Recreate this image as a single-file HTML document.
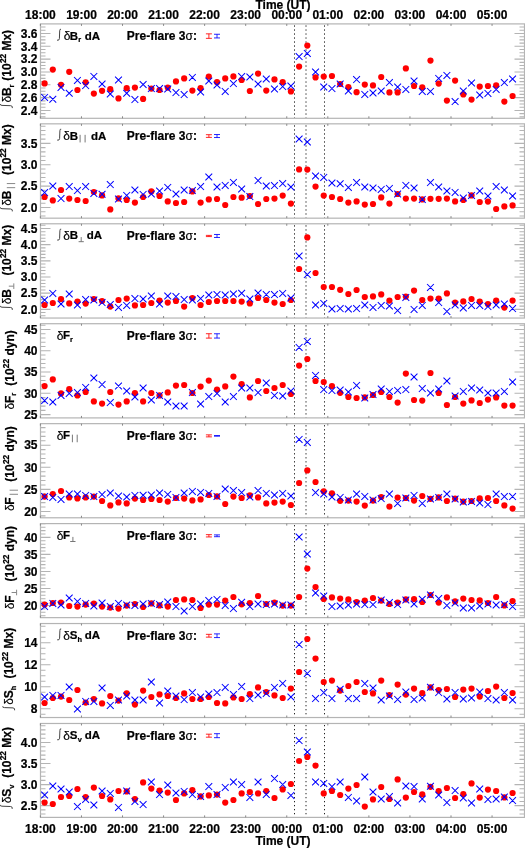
<!DOCTYPE html><html><head><meta charset="utf-8"><style>html,body{margin:0;padding:0;background:#fff;width:525px;height:848px;overflow:hidden}svg{display:block;will-change:transform}text{font-family:"Liberation Sans",sans-serif;font-weight:bold;fill:#000;stroke:#000;stroke-width:0.22px}</style></head><body>
<svg width="525" height="848" viewBox="0 0 525 848">
<rect width="525" height="848" fill="#fff"/>
<text x="283" y="8.7" font-size="12" text-anchor="middle">Time (UT)</text>
<text x="40.4" y="18.9" font-size="12" text-anchor="middle">18:00</text>
<text x="81.5" y="18.9" font-size="12" text-anchor="middle">19:00</text>
<text x="122.5" y="18.9" font-size="12" text-anchor="middle">20:00</text>
<text x="163.6" y="18.9" font-size="12" text-anchor="middle">21:00</text>
<text x="204.6" y="18.9" font-size="12" text-anchor="middle">22:00</text>
<text x="245.7" y="18.9" font-size="12" text-anchor="middle">23:00</text>
<text x="286.8" y="18.9" font-size="12" text-anchor="middle">00:00</text>
<text x="327.8" y="18.9" font-size="12" text-anchor="middle">01:00</text>
<text x="368.9" y="18.9" font-size="12" text-anchor="middle">02:00</text>
<text x="409.9" y="18.9" font-size="12" text-anchor="middle">03:00</text>
<text x="451.0" y="18.9" font-size="12" text-anchor="middle">04:00</text>
<text x="492.1" y="18.9" font-size="12" text-anchor="middle">05:00</text>
<text x="40.4" y="833" font-size="12" text-anchor="middle">18:00</text>
<text x="81.5" y="833" font-size="12" text-anchor="middle">19:00</text>
<text x="122.5" y="833" font-size="12" text-anchor="middle">20:00</text>
<text x="163.6" y="833" font-size="12" text-anchor="middle">21:00</text>
<text x="204.6" y="833" font-size="12" text-anchor="middle">22:00</text>
<text x="245.7" y="833" font-size="12" text-anchor="middle">23:00</text>
<text x="286.8" y="833" font-size="12" text-anchor="middle">00:00</text>
<text x="327.8" y="833" font-size="12" text-anchor="middle">01:00</text>
<text x="368.9" y="833" font-size="12" text-anchor="middle">02:00</text>
<text x="409.9" y="833" font-size="12" text-anchor="middle">03:00</text>
<text x="451.0" y="833" font-size="12" text-anchor="middle">04:00</text>
<text x="492.1" y="833" font-size="12" text-anchor="middle">05:00</text>
<text x="283" y="845" font-size="12" text-anchor="middle">Time (UT)</text>
<g><rect x="40.5" y="23.90" width="484.0" height="94.40" fill="none" stroke="#b4b4b4" stroke-width="1.2"/><text x="37.5" y="114.66" font-size="12" text-anchor="end">2.4</text><text x="37.5" y="101.83" font-size="12" text-anchor="end">2.6</text><text x="37.5" y="89.00" font-size="12" text-anchor="end">2.8</text><text x="37.5" y="76.17" font-size="12" text-anchor="end">3.0</text><text x="37.5" y="63.33" font-size="12" text-anchor="end">3.2</text><text x="37.5" y="50.50" font-size="12" text-anchor="end">3.4</text><text x="37.5" y="37.67" font-size="12" text-anchor="end">3.6</text><path d="M40.5 116.88h5M524.5 116.88h-5M40.5 113.67h5M524.5 113.67h-5M40.5 110.46h10M524.5 110.46h-10M40.5 107.25h5M524.5 107.25h-5M40.5 104.04h5M524.5 104.04h-5M40.5 100.84h5M524.5 100.84h-5M40.5 97.63h10M524.5 97.63h-10M40.5 94.42h5M524.5 94.42h-5M40.5 91.21h5M524.5 91.21h-5M40.5 88.00h5M524.5 88.00h-5M40.5 84.80h10M524.5 84.80h-10M40.5 81.59h5M524.5 81.59h-5M40.5 78.38h5M524.5 78.38h-5M40.5 75.17h5M524.5 75.17h-5M40.5 71.97h10M524.5 71.97h-10M40.5 68.76h5M524.5 68.76h-5M40.5 65.55h5M524.5 65.55h-5M40.5 62.34h5M524.5 62.34h-5M40.5 59.13h10M524.5 59.13h-10M40.5 55.93h5M524.5 55.93h-5M40.5 52.72h5M524.5 52.72h-5M40.5 49.51h5M524.5 49.51h-5M40.5 46.30h10M524.5 46.30h-10M40.5 43.09h5M524.5 43.09h-5M40.5 39.89h5M524.5 39.89h-5M40.5 36.68h5M524.5 36.68h-5M40.5 33.47h10M524.5 33.47h-10M40.5 30.26h5M524.5 30.26h-5M40.5 27.05h5M524.5 27.05h-5" stroke="#b4b4b4" stroke-width="1.1" fill="none"/><path d="M40.40 118.30v-2M40.40 23.90v2M81.46 118.30v-2M81.46 23.90v2M122.52 118.30v-2M122.52 23.90v2M163.58 118.30v-2M163.58 23.90v2M204.64 118.30v-2M204.64 23.90v2M245.70 118.30v-2M245.70 23.90v2M286.76 118.30v-2M286.76 23.90v2M327.82 118.30v-2M327.82 23.90v2M368.88 118.30v-2M368.88 23.90v2M409.94 118.30v-2M409.94 23.90v2M451.00 118.30v-2M451.00 23.90v2M492.06 118.30v-2M492.06 23.90v2" stroke="#888" stroke-width="1" fill="none"/><path d="M61.00 29.30Q59.80 28.70 59.70 30.80L59.40 38.60Q59.20 40.80 57.00 40.20" stroke="#444" stroke-width="1.0" fill="none"/><text x="63.70" y="40.10" font-size="12" style="font-weight:normal;stroke-width:0.15px">δ</text><text x="69.73" y="39.60" font-size="11.50">B</text><text x="78.31" y="42.30" font-size="7.4">r</text><text x="84.73" y="39.60" font-size="11.50">dA</text><text x="126.8" y="40.00" font-size="12">Pre-flare 3<tspan style="font-weight:normal;stroke-width:0.15px">σ</tspan>:</text><path d="M205.90 33.85h6M205.90 38.35h6M208.90 33.85V38.35" stroke="#f00" stroke-width="1" fill="none" opacity="0.85"/><path d="M214.00 34.25h6M214.00 37.95h6M217.00 34.25V37.95" stroke="#00f" stroke-width="1" fill="none" opacity="0.85"/><g transform="translate(11.00 108.60) rotate(-90)"><path d="M4.50 -10.50Q3.30 -11.10 3.20 -9.00L2.90 -0.30Q2.70 1.90 0.50 1.30" stroke="#444" stroke-width="1.0" fill="none"/><text x="6.08" y="0" font-size="12.00" style="font-weight:normal;stroke-width:0.15px">δ</text><text x="12.56" y="0" font-size="12.00">B</text><text x="21.23" y="2.6" font-size="7.44">r</text><text x="27.96" y="0" font-size="12.00">(10</text><text x="45.50" y="-4.9" font-size="8.3">22</text><text x="54.73" y="0" font-size="12.00">&#160;Mx)</text></g><line x1="294.5" y1="25.40" x2="294.5" y2="117.80" stroke="#222" stroke-width="1" stroke-dasharray="1.3 2.7"/><line x1="306.0" y1="25.40" x2="306.0" y2="117.80" stroke="#222" stroke-width="1" stroke-dasharray="1.3 2.7"/><line x1="324.5" y1="25.40" x2="324.5" y2="117.80" stroke="#222" stroke-width="1" stroke-dasharray="1.3 2.7"/><g fill="#f00"><circle cx="44.60" cy="83.40" r="3.1"/><circle cx="52.81" cy="69.60" r="3.1"/><circle cx="61.02" cy="84.80" r="3.1"/><circle cx="69.23" cy="71.80" r="3.1"/><circle cx="77.44" cy="90.00" r="3.1"/><circle cx="85.65" cy="82.40" r="3.1"/><circle cx="93.86" cy="93.60" r="3.1"/><circle cx="102.07" cy="90.80" r="3.1"/><circle cx="110.28" cy="89.20" r="3.1"/><circle cx="118.49" cy="98.40" r="3.1"/><circle cx="126.70" cy="88.20" r="3.1"/><circle cx="134.91" cy="87.60" r="3.1"/><circle cx="143.12" cy="98.90" r="3.1"/><circle cx="151.33" cy="88.60" r="3.1"/><circle cx="159.54" cy="90.00" r="3.1"/><circle cx="167.75" cy="87.60" r="3.1"/><circle cx="175.96" cy="81.40" r="3.1"/><circle cx="184.17" cy="78.40" r="3.1"/><circle cx="192.38" cy="90.60" r="3.1"/><circle cx="200.59" cy="88.20" r="3.1"/><circle cx="208.80" cy="76.60" r="3.1"/><circle cx="217.01" cy="82.20" r="3.1"/><circle cx="225.22" cy="78.40" r="3.1"/><circle cx="233.43" cy="76.40" r="3.1"/><circle cx="241.64" cy="80.00" r="3.1"/><circle cx="249.85" cy="91.00" r="3.1"/><circle cx="258.06" cy="73.60" r="3.1"/><circle cx="266.27" cy="90.60" r="3.1"/><circle cx="274.48" cy="79.40" r="3.1"/><circle cx="282.69" cy="82.00" r="3.1"/><circle cx="290.90" cy="91.40" r="3.1"/><circle cx="299.11" cy="66.60" r="3.1"/><circle cx="307.32" cy="45.60" r="3.1"/><circle cx="315.53" cy="77.40" r="3.1"/><circle cx="323.74" cy="76.60" r="3.1"/><circle cx="331.95" cy="76.00" r="3.1"/><circle cx="340.16" cy="84.00" r="3.1"/><circle cx="348.37" cy="87.00" r="3.1"/><circle cx="356.58" cy="92.20" r="3.1"/><circle cx="364.79" cy="84.60" r="3.1"/><circle cx="373.00" cy="85.40" r="3.1"/><circle cx="381.21" cy="77.00" r="3.1"/><circle cx="389.42" cy="92.40" r="3.1"/><circle cx="397.63" cy="92.40" r="3.1"/><circle cx="405.84" cy="68.40" r="3.1"/><circle cx="414.05" cy="86.00" r="3.1"/><circle cx="422.26" cy="87.40" r="3.1"/><circle cx="430.47" cy="60.60" r="3.1"/><circle cx="438.68" cy="83.60" r="3.1"/><circle cx="446.89" cy="100.60" r="3.1"/><circle cx="455.10" cy="80.60" r="3.1"/><circle cx="463.31" cy="94.40" r="3.1"/><circle cx="471.52" cy="99.60" r="3.1"/><circle cx="479.73" cy="86.60" r="3.1"/><circle cx="487.94" cy="86.00" r="3.1"/><circle cx="496.15" cy="85.40" r="3.1"/><circle cx="504.36" cy="101.60" r="3.1"/><circle cx="512.57" cy="96.00" r="3.1"/></g><path d="M41.20 94.00L48.00 100.80M41.20 100.80L48.00 94.00M49.41 95.80L56.21 102.60M49.41 102.60L56.21 95.80M57.62 84.00L64.42 90.80M57.62 90.80L64.42 84.00M65.83 89.80L72.63 96.60M65.83 96.60L72.63 89.80M74.04 77.00L80.84 83.80M74.04 83.80L80.84 77.00M82.25 82.20L89.05 89.00M82.25 89.00L89.05 82.20M90.46 73.00L97.26 79.80M90.46 79.80L97.26 73.00M98.67 80.60L105.47 87.40M98.67 87.40L105.47 80.60M106.88 90.60L113.68 97.40M106.88 97.40L113.68 90.60M115.09 76.60L121.89 83.40M115.09 83.40L121.89 76.60M123.30 89.80L130.10 96.60M123.30 96.60L130.10 89.80M131.51 96.20L138.31 103.00M131.51 103.00L138.31 96.20M139.72 81.10L146.52 87.90M139.72 87.90L146.52 81.10M147.93 85.20L154.73 92.00M147.93 92.00L154.73 85.20M156.14 85.20L162.94 92.00M156.14 92.00L162.94 85.20M164.35 85.60L171.15 92.40M164.35 92.40L171.15 85.60M172.56 89.20L179.36 96.00M172.56 96.00L179.36 89.20M180.77 91.20L187.57 98.00M180.77 98.00L187.57 91.20M188.98 74.00L195.78 80.80M188.98 80.80L195.78 74.00M197.19 88.60L203.99 95.40M197.19 95.40L203.99 88.60M205.40 77.60L212.20 84.40M205.40 84.40L212.20 77.60M213.61 81.60L220.41 88.40M213.61 88.40L220.41 81.60M221.82 88.00L228.62 94.80M221.82 94.80L228.62 88.00M230.03 80.20L236.83 87.00M230.03 87.00L236.83 80.20M238.24 73.20L245.04 80.00M238.24 80.00L245.04 73.20M246.45 73.60L253.25 80.40M246.45 80.40L253.25 73.60M254.66 80.60L261.46 87.40M254.66 87.40L261.46 80.60M262.87 75.60L269.67 82.40M262.87 82.40L269.67 75.60M271.08 85.60L277.88 92.40M271.08 92.40L277.88 85.60M279.29 83.20L286.09 90.00M279.29 90.00L286.09 83.20M287.50 82.60L294.30 89.40M287.50 89.40L294.30 82.60M295.71 53.20L302.51 60.00M295.71 60.00L302.51 53.20M303.92 50.00L310.72 56.80M303.92 56.80L310.72 50.00M312.13 68.60L318.93 75.40M312.13 75.40L318.93 68.60M320.34 83.60L327.14 90.40M320.34 90.40L327.14 83.60M328.55 85.20L335.35 92.00M328.55 92.00L335.35 85.20M336.76 80.60L343.56 87.40M336.76 87.40L343.56 80.60M344.97 87.60L351.77 94.40M344.97 94.40L351.77 87.60M353.18 76.20L359.98 83.00M353.18 83.00L359.98 76.20M361.39 91.00L368.19 97.80M361.39 97.80L368.19 91.00M369.60 89.60L376.40 96.40M369.60 96.40L376.40 89.60M377.81 87.60L384.61 94.40M377.81 94.40L384.61 87.60M386.02 79.20L392.82 86.00M386.02 86.00L392.82 79.20M394.23 83.60L401.03 90.40M394.23 90.40L401.03 83.60M402.44 86.00L409.24 92.80M402.44 92.80L409.24 86.00M410.65 77.60L417.45 84.40M410.65 84.40L417.45 77.60M418.86 88.00L425.66 94.80M418.86 94.80L425.66 88.00M427.07 88.00L433.87 94.80M427.07 94.80L433.87 88.00M435.28 75.00L442.08 81.80M435.28 81.80L442.08 75.00M443.49 72.00L450.29 78.80M443.49 78.80L450.29 72.00M451.70 98.20L458.50 105.00M451.70 105.00L458.50 98.20M459.91 87.60L466.71 94.40M459.91 94.40L466.71 87.60M468.12 79.60L474.92 86.40M468.12 86.40L474.92 79.60M476.33 91.60L483.13 98.40M476.33 98.40L483.13 91.60M484.54 90.00L491.34 96.80M484.54 96.80L491.34 90.00M492.75 86.00L499.55 92.80M492.75 92.80L499.55 86.00M500.96 79.20L507.76 86.00M500.96 86.00L507.76 79.20M509.17 75.60L515.97 82.40M509.17 82.40L515.97 75.60" stroke="#00f" stroke-width="1.05" fill="none"/></g>
<g><rect x="40.5" y="123.84" width="484.0" height="94.33" fill="none" stroke="#b4b4b4" stroke-width="1.2"/><text x="37.5" y="211.66" font-size="12" text-anchor="end">2.0</text><text x="37.5" y="190.30" font-size="12" text-anchor="end">2.5</text><text x="37.5" y="168.93" font-size="12" text-anchor="end">3.0</text><text x="37.5" y="147.57" font-size="12" text-anchor="end">3.5</text><path d="M40.5 216.01h5M524.5 216.01h-5M40.5 211.73h5M524.5 211.73h-5M40.5 207.46h10M524.5 207.46h-10M40.5 203.19h5M524.5 203.19h-5M40.5 198.91h5M524.5 198.91h-5M40.5 194.64h5M524.5 194.64h-5M40.5 190.37h5M524.5 190.37h-5M40.5 186.10h10M524.5 186.10h-10M40.5 181.82h5M524.5 181.82h-5M40.5 177.55h5M524.5 177.55h-5M40.5 173.28h5M524.5 173.28h-5M40.5 169.01h5M524.5 169.01h-5M40.5 164.73h10M524.5 164.73h-10M40.5 160.46h5M524.5 160.46h-5M40.5 156.19h5M524.5 156.19h-5M40.5 151.92h5M524.5 151.92h-5M40.5 147.64h5M524.5 147.64h-5M40.5 143.37h10M524.5 143.37h-10M40.5 139.10h5M524.5 139.10h-5M40.5 134.82h5M524.5 134.82h-5M40.5 130.55h5M524.5 130.55h-5M40.5 126.28h5M524.5 126.28h-5" stroke="#b4b4b4" stroke-width="1.1" fill="none"/><path d="M40.40 218.17v-2M40.40 123.84v2M81.46 218.17v-2M81.46 123.84v2M122.52 218.17v-2M122.52 123.84v2M163.58 218.17v-2M163.58 123.84v2M204.64 218.17v-2M204.64 123.84v2M245.70 218.17v-2M245.70 123.84v2M286.76 218.17v-2M286.76 123.84v2M327.82 218.17v-2M327.82 123.84v2M368.88 218.17v-2M368.88 123.84v2M409.94 218.17v-2M409.94 123.84v2M451.00 218.17v-2M451.00 123.84v2M492.06 218.17v-2M492.06 123.84v2" stroke="#888" stroke-width="1" fill="none"/><path d="M61.20 129.24Q60.00 128.64 59.90 130.74L59.60 138.54Q59.40 140.74 57.20 140.14" stroke="#444" stroke-width="1.0" fill="none"/><text x="63.30" y="140.04" font-size="12" style="font-weight:normal;stroke-width:0.15px">δ</text><text x="69.63" y="139.54" font-size="11.50">B</text><path d="M80.10 134.84V142.44M85.10 134.84V142.44" stroke="#777" stroke-width="1" fill="none"/><text x="91.03" y="139.54" font-size="11.50">dA</text><text x="126.8" y="139.94" font-size="12">Pre-flare 3<tspan style="font-weight:normal;stroke-width:0.15px">σ</tspan>:</text><path d="M205.90 134.69h6M205.90 137.39h6M208.90 134.69V137.39" stroke="#f00" stroke-width="1" fill="none" opacity="0.85"/><path d="M214.00 134.54h6M214.00 137.54h6M217.00 134.54V137.54" stroke="#00f" stroke-width="1" fill="none" opacity="0.85"/><g transform="translate(11.00 211.90) rotate(-90)"><path d="M4.50 -10.50Q3.30 -11.10 3.20 -9.00L2.90 -0.30Q2.70 1.90 0.50 1.30" stroke="#444" stroke-width="1.0" fill="none"/><text x="6.08" y="0" font-size="12.00" style="font-weight:normal;stroke-width:0.15px">δ</text><text x="12.56" y="0" font-size="12.00">B</text><path d="M24.23 -4.2v8.4M28.33 -4.2v8.4" stroke="#888" stroke-width="1" fill="none"/><text x="36.86" y="0" font-size="12.00">(10</text><text x="54.41" y="-4.9" font-size="8.3">22</text><text x="63.64" y="0" font-size="12.00">&#160;Mx)</text></g><line x1="294.5" y1="125.34" x2="294.5" y2="217.67" stroke="#222" stroke-width="1" stroke-dasharray="1.3 2.7"/><line x1="306.0" y1="125.34" x2="306.0" y2="217.67" stroke="#222" stroke-width="1" stroke-dasharray="1.3 2.7"/><line x1="324.5" y1="125.34" x2="324.5" y2="217.67" stroke="#222" stroke-width="1" stroke-dasharray="1.3 2.7"/><g fill="#f00"><circle cx="44.60" cy="197.00" r="3.1"/><circle cx="52.81" cy="200.40" r="3.1"/><circle cx="61.02" cy="190.00" r="3.1"/><circle cx="69.23" cy="198.60" r="3.1"/><circle cx="77.44" cy="200.00" r="3.1"/><circle cx="85.65" cy="201.00" r="3.1"/><circle cx="93.86" cy="192.00" r="3.1"/><circle cx="102.07" cy="195.40" r="3.1"/><circle cx="110.28" cy="209.40" r="3.1"/><circle cx="118.49" cy="198.40" r="3.1"/><circle cx="126.70" cy="200.00" r="3.1"/><circle cx="134.91" cy="202.60" r="3.1"/><circle cx="143.12" cy="197.00" r="3.1"/><circle cx="151.33" cy="191.40" r="3.1"/><circle cx="159.54" cy="196.00" r="3.1"/><circle cx="167.75" cy="201.40" r="3.1"/><circle cx="175.96" cy="203.00" r="3.1"/><circle cx="184.17" cy="202.00" r="3.1"/><circle cx="192.38" cy="191.40" r="3.1"/><circle cx="200.59" cy="202.60" r="3.1"/><circle cx="208.80" cy="199.40" r="3.1"/><circle cx="217.01" cy="199.00" r="3.1"/><circle cx="225.22" cy="205.00" r="3.1"/><circle cx="233.43" cy="197.00" r="3.1"/><circle cx="241.64" cy="197.70" r="3.1"/><circle cx="249.85" cy="196.00" r="3.1"/><circle cx="258.06" cy="204.00" r="3.1"/><circle cx="266.27" cy="199.00" r="3.1"/><circle cx="274.48" cy="198.60" r="3.1"/><circle cx="282.69" cy="195.60" r="3.1"/><circle cx="290.90" cy="203.60" r="3.1"/><circle cx="299.11" cy="169.40" r="3.1"/><circle cx="307.32" cy="169.60" r="3.1"/><circle cx="315.53" cy="186.60" r="3.1"/><circle cx="323.74" cy="195.60" r="3.1"/><circle cx="331.95" cy="197.00" r="3.1"/><circle cx="340.16" cy="199.00" r="3.1"/><circle cx="348.37" cy="202.60" r="3.1"/><circle cx="356.58" cy="201.40" r="3.1"/><circle cx="364.79" cy="204.60" r="3.1"/><circle cx="373.00" cy="204.00" r="3.1"/><circle cx="381.21" cy="197.40" r="3.1"/><circle cx="389.42" cy="203.60" r="3.1"/><circle cx="397.63" cy="194.00" r="3.1"/><circle cx="405.84" cy="198.60" r="3.1"/><circle cx="414.05" cy="198.60" r="3.1"/><circle cx="422.26" cy="199.40" r="3.1"/><circle cx="430.47" cy="198.80" r="3.1"/><circle cx="438.68" cy="198.80" r="3.1"/><circle cx="446.89" cy="198.60" r="3.1"/><circle cx="455.10" cy="201.40" r="3.1"/><circle cx="463.31" cy="200.00" r="3.1"/><circle cx="471.52" cy="195.40" r="3.1"/><circle cx="479.73" cy="202.00" r="3.1"/><circle cx="487.94" cy="201.60" r="3.1"/><circle cx="496.15" cy="209.00" r="3.1"/><circle cx="504.36" cy="206.40" r="3.1"/><circle cx="512.57" cy="205.40" r="3.1"/></g><path d="M41.20 189.20L48.00 196.00M41.20 196.00L48.00 189.20M49.41 182.60L56.21 189.40M49.41 189.40L56.21 182.60M57.62 195.20L64.42 202.00M57.62 202.00L64.42 195.20M65.83 183.20L72.63 190.00M65.83 190.00L72.63 183.20M74.04 187.20L80.84 194.00M74.04 194.00L80.84 187.20M82.25 183.20L89.05 190.00M82.25 190.00L89.05 183.20M90.46 190.00L97.26 196.80M90.46 196.80L97.26 190.00M98.67 190.80L105.47 197.60M98.67 197.60L105.47 190.80M106.88 181.20L113.68 188.00M106.88 188.00L113.68 181.20M115.09 195.60L121.89 202.40M115.09 202.40L121.89 195.60M123.30 192.00L130.10 198.80M123.30 198.80L130.10 192.00M131.51 186.60L138.31 193.40M131.51 193.40L138.31 186.60M139.72 191.00L146.52 197.80M139.72 197.80L146.52 191.00M147.93 190.60L154.73 197.40M147.93 197.40L154.73 190.60M156.14 187.60L162.94 194.40M156.14 194.40L162.94 187.60M164.35 184.00L171.15 190.80M164.35 190.80L171.15 184.00M172.56 190.60L179.36 197.40M172.56 197.40L179.36 190.60M180.77 186.60L187.57 193.40M180.77 193.40L187.57 186.60M188.98 187.20L195.78 194.00M188.98 194.00L195.78 187.20M197.19 183.20L203.99 190.00M197.19 190.00L203.99 183.20M205.40 173.60L212.20 180.40M205.40 180.40L212.20 173.60M213.61 183.60L220.41 190.40M213.61 190.40L220.41 183.60M221.82 182.00L228.62 188.80M221.82 188.80L228.62 182.00M230.03 179.00L236.83 185.80M230.03 185.80L236.83 179.00M238.24 185.60L245.04 192.40M238.24 192.40L245.04 185.60M246.45 193.20L253.25 200.00M246.45 200.00L253.25 193.20M254.66 177.20L261.46 184.00M254.66 184.00L261.46 177.20M262.87 182.60L269.67 189.40M262.87 189.40L269.67 182.60M271.08 182.20L277.88 189.00M271.08 189.00L277.88 182.20M279.29 180.20L286.09 187.00M279.29 187.00L286.09 180.20M287.50 183.60L294.30 190.40M287.50 190.40L294.30 183.60M295.71 135.60L302.51 142.40M295.71 142.40L302.51 135.60M303.92 138.60L310.72 145.40M303.92 145.40L310.72 138.60M312.13 172.60L318.93 179.40M312.13 179.40L318.93 172.60M320.34 174.00L327.14 180.80M320.34 180.80L327.14 174.00M328.55 179.60L335.35 186.40M328.55 186.40L335.35 179.60M336.76 180.40L343.56 187.20M336.76 187.20L343.56 180.40M344.97 184.00L351.77 190.80M344.97 190.80L351.77 184.00M353.18 179.20L359.98 186.00M353.18 186.00L359.98 179.20M361.39 183.60L368.19 190.40M361.39 190.40L368.19 183.60M369.60 184.60L376.40 191.40M369.60 191.40L376.40 184.60M377.81 186.00L384.61 192.80M377.81 192.80L384.61 186.00M386.02 185.00L392.82 191.80M386.02 191.80L392.82 185.00M394.23 190.60L401.03 197.40M394.23 197.40L401.03 190.60M402.44 182.00L409.24 188.80M402.44 188.80L409.24 182.00M410.65 184.60L417.45 191.40M410.65 191.40L417.45 184.60M418.86 196.00L425.66 202.80M418.86 202.80L425.66 196.00M427.07 179.20L433.87 186.00M427.07 186.00L433.87 179.20M435.28 183.60L442.08 190.40M435.28 190.40L442.08 183.60M443.49 187.60L450.29 194.40M443.49 194.40L450.29 187.60M451.70 189.00L458.50 195.80M451.70 195.80L458.50 189.00M459.91 194.60L466.71 201.40M459.91 201.40L466.71 194.60M468.12 192.00L474.92 198.80M468.12 198.80L474.92 192.00M476.33 187.60L483.13 194.40M476.33 194.40L483.13 187.60M484.54 192.60L491.34 199.40M484.54 199.40L491.34 192.60M492.75 183.20L499.55 190.00M492.75 190.00L499.55 183.20M500.96 186.60L507.76 193.40M500.96 193.40L507.76 186.60M509.17 192.60L515.97 199.40M509.17 199.40L515.97 192.60" stroke="#00f" stroke-width="1.05" fill="none"/></g>
<g><rect x="40.5" y="223.78" width="484.0" height="94.26" fill="none" stroke="#b4b4b4" stroke-width="1.2"/><text x="37.5" y="313.53" font-size="12" text-anchor="end">2.0</text><text x="37.5" y="297.36" font-size="12" text-anchor="end">2.5</text><text x="37.5" y="281.19" font-size="12" text-anchor="end">3.0</text><text x="37.5" y="265.03" font-size="12" text-anchor="end">3.5</text><text x="37.5" y="248.86" font-size="12" text-anchor="end">4.0</text><text x="37.5" y="232.69" font-size="12" text-anchor="end">4.5</text><path d="M40.5 315.80h5M524.5 315.80h-5M40.5 312.56h5M524.5 312.56h-5M40.5 309.33h10M524.5 309.33h-10M40.5 306.10h5M524.5 306.10h-5M40.5 302.86h5M524.5 302.86h-5M40.5 299.63h5M524.5 299.63h-5M40.5 296.40h5M524.5 296.40h-5M40.5 293.16h10M524.5 293.16h-10M40.5 289.93h5M524.5 289.93h-5M40.5 286.69h5M524.5 286.69h-5M40.5 283.46h5M524.5 283.46h-5M40.5 280.23h5M524.5 280.23h-5M40.5 276.99h10M524.5 276.99h-10M40.5 273.76h5M524.5 273.76h-5M40.5 270.53h5M524.5 270.53h-5M40.5 267.29h5M524.5 267.29h-5M40.5 264.06h5M524.5 264.06h-5M40.5 260.83h10M524.5 260.83h-10M40.5 257.59h5M524.5 257.59h-5M40.5 254.36h5M524.5 254.36h-5M40.5 251.13h5M524.5 251.13h-5M40.5 247.89h5M524.5 247.89h-5M40.5 244.66h10M524.5 244.66h-10M40.5 241.42h5M524.5 241.42h-5M40.5 238.19h5M524.5 238.19h-5M40.5 234.96h5M524.5 234.96h-5M40.5 231.72h5M524.5 231.72h-5M40.5 228.49h10M524.5 228.49h-10M40.5 225.26h5M524.5 225.26h-5" stroke="#b4b4b4" stroke-width="1.1" fill="none"/><path d="M40.40 318.04v-2M40.40 223.78v2M81.46 318.04v-2M81.46 223.78v2M122.52 318.04v-2M122.52 223.78v2M163.58 318.04v-2M163.58 223.78v2M204.64 318.04v-2M204.64 223.78v2M245.70 318.04v-2M245.70 223.78v2M286.76 318.04v-2M286.76 223.78v2M327.82 318.04v-2M327.82 223.78v2M368.88 318.04v-2M368.88 223.78v2M409.94 318.04v-2M409.94 223.78v2M451.00 318.04v-2M451.00 223.78v2M492.06 318.04v-2M492.06 223.78v2" stroke="#888" stroke-width="1" fill="none"/><path d="M61.20 229.18Q60.00 228.58 59.90 230.68L59.60 238.48Q59.40 240.68 57.20 240.08" stroke="#444" stroke-width="1.0" fill="none"/><text x="63.30" y="239.98" font-size="12" style="font-weight:normal;stroke-width:0.15px">δ</text><text x="69.63" y="239.48" font-size="11.50">B</text><path d="M81.20 237.08V241.68M78.60 241.68H83.80" stroke="#777" stroke-width="1" fill="none"/><text x="86.63" y="239.48" font-size="11.50">dA</text><text x="126.8" y="239.88" font-size="12">Pre-flare 3<tspan style="font-weight:normal;stroke-width:0.15px">σ</tspan>:</text><path d="M205.90 235.38h6M205.90 236.58h6M208.90 235.38V236.58" stroke="#f00" stroke-width="1" fill="none" opacity="0.85"/><path d="M214.00 234.48h6M214.00 237.48h6M217.00 234.48V237.48" stroke="#00f" stroke-width="1" fill="none" opacity="0.85"/><g transform="translate(11.00 310.40) rotate(-90)"><path d="M4.50 -10.50Q3.30 -11.10 3.20 -9.00L2.90 -0.30Q2.70 1.90 0.50 1.30" stroke="#444" stroke-width="1.0" fill="none"/><text x="6.08" y="0" font-size="12.00" style="font-weight:normal;stroke-width:0.15px">δ</text><text x="12.56" y="0" font-size="12.00">B</text><path d="M24.23 -2.20v5.0M21.43 2.80h5.6" stroke="#888" stroke-width="1" fill="none"/><text x="34.81" y="0" font-size="12.00">(10</text><text x="52.36" y="-4.9" font-size="8.3">22</text><text x="61.59" y="0" font-size="12.00">&#160;Mx)</text></g><line x1="294.5" y1="225.28" x2="294.5" y2="317.54" stroke="#222" stroke-width="1" stroke-dasharray="1.3 2.7"/><line x1="306.0" y1="225.28" x2="306.0" y2="317.54" stroke="#222" stroke-width="1" stroke-dasharray="1.3 2.7"/><line x1="324.5" y1="225.28" x2="324.5" y2="317.54" stroke="#222" stroke-width="1" stroke-dasharray="1.3 2.7"/><g fill="#f00"><circle cx="44.60" cy="305.00" r="3.1"/><circle cx="52.81" cy="303.00" r="3.1"/><circle cx="61.02" cy="299.00" r="3.1"/><circle cx="69.23" cy="303.40" r="3.1"/><circle cx="77.44" cy="301.60" r="3.1"/><circle cx="85.65" cy="303.60" r="3.1"/><circle cx="93.86" cy="299.00" r="3.1"/><circle cx="102.07" cy="301.00" r="3.1"/><circle cx="110.28" cy="306.60" r="3.1"/><circle cx="118.49" cy="300.00" r="3.1"/><circle cx="126.70" cy="298.60" r="3.1"/><circle cx="134.91" cy="305.40" r="3.1"/><circle cx="143.12" cy="305.00" r="3.1"/><circle cx="151.33" cy="303.00" r="3.1"/><circle cx="159.54" cy="300.60" r="3.1"/><circle cx="167.75" cy="302.60" r="3.1"/><circle cx="175.96" cy="301.00" r="3.1"/><circle cx="184.17" cy="306.60" r="3.1"/><circle cx="192.38" cy="298.00" r="3.1"/><circle cx="200.59" cy="305.00" r="3.1"/><circle cx="208.80" cy="302.00" r="3.1"/><circle cx="217.01" cy="301.00" r="3.1"/><circle cx="225.22" cy="301.00" r="3.1"/><circle cx="233.43" cy="301.00" r="3.1"/><circle cx="241.64" cy="301.60" r="3.1"/><circle cx="249.85" cy="303.40" r="3.1"/><circle cx="258.06" cy="298.00" r="3.1"/><circle cx="266.27" cy="300.00" r="3.1"/><circle cx="274.48" cy="302.60" r="3.1"/><circle cx="282.69" cy="304.00" r="3.1"/><circle cx="290.90" cy="300.00" r="3.1"/><circle cx="299.11" cy="269.00" r="3.1"/><circle cx="307.32" cy="237.40" r="3.1"/><circle cx="315.53" cy="273.00" r="3.1"/><circle cx="323.74" cy="287.00" r="3.1"/><circle cx="331.95" cy="287.00" r="3.1"/><circle cx="340.16" cy="289.80" r="3.1"/><circle cx="348.37" cy="294.00" r="3.1"/><circle cx="356.58" cy="290.00" r="3.1"/><circle cx="364.79" cy="297.00" r="3.1"/><circle cx="373.00" cy="296.40" r="3.1"/><circle cx="381.21" cy="294.40" r="3.1"/><circle cx="389.42" cy="300.60" r="3.1"/><circle cx="397.63" cy="297.00" r="3.1"/><circle cx="405.84" cy="296.60" r="3.1"/><circle cx="414.05" cy="290.60" r="3.1"/><circle cx="422.26" cy="300.00" r="3.1"/><circle cx="430.47" cy="298.60" r="3.1"/><circle cx="438.68" cy="298.60" r="3.1"/><circle cx="446.89" cy="293.40" r="3.1"/><circle cx="455.10" cy="302.60" r="3.1"/><circle cx="463.31" cy="301.40" r="3.1"/><circle cx="471.52" cy="299.00" r="3.1"/><circle cx="479.73" cy="301.60" r="3.1"/><circle cx="487.94" cy="304.00" r="3.1"/><circle cx="496.15" cy="300.60" r="3.1"/><circle cx="504.36" cy="307.60" r="3.1"/><circle cx="512.57" cy="300.60" r="3.1"/></g><path d="M41.20 296.60L48.00 303.40M41.20 303.40L48.00 296.60M49.41 290.00L56.21 296.80M49.41 296.80L56.21 290.00M57.62 300.60L64.42 307.40M57.62 307.40L64.42 300.60M65.83 290.60L72.63 297.40M65.83 297.40L72.63 290.60M74.04 301.60L80.84 308.40M74.04 308.40L80.84 301.60M82.25 296.20L89.05 303.00M82.25 303.00L89.05 296.20M90.46 296.60L97.26 303.40M90.46 303.40L97.26 296.60M98.67 299.20L105.47 306.00M98.67 306.00L105.47 299.20M106.88 301.20L113.68 308.00M106.88 308.00L113.68 301.20M115.09 304.00L121.89 310.80M115.09 310.80L121.89 304.00M123.30 302.00L130.10 308.80M123.30 308.80L130.10 302.00M131.51 295.20L138.31 302.00M131.51 302.00L138.31 295.20M139.72 295.60L146.52 302.40M139.72 302.40L146.52 295.60M147.93 292.60L154.73 299.40M147.93 299.40L154.73 292.60M156.14 300.60L162.94 307.40M156.14 307.40L162.94 300.60M164.35 292.60L171.15 299.40M164.35 299.40L171.15 292.60M172.56 293.20L179.36 300.00M172.56 300.00L179.36 293.20M180.77 296.20L187.57 303.00M180.77 303.00L187.57 296.20M188.98 296.60L195.78 303.40M188.98 303.40L195.78 296.60M197.19 295.20L203.99 302.00M197.19 302.00L203.99 295.20M205.40 291.60L212.20 298.40M205.40 298.40L212.20 291.60M213.61 291.20L220.41 298.00M213.61 298.00L220.41 291.20M221.82 291.60L228.62 298.40M221.82 298.40L228.62 291.60M230.03 290.60L236.83 297.40M230.03 297.40L236.83 290.60M238.24 289.80L245.04 296.60M238.24 296.60L245.04 289.80M246.45 295.60L253.25 302.40M246.45 302.40L253.25 295.60M254.66 289.60L261.46 296.40M254.66 296.40L261.46 289.60M262.87 291.20L269.67 298.00M262.87 298.00L269.67 291.20M271.08 291.20L277.88 298.00M271.08 298.00L277.88 291.20M279.29 290.00L286.09 296.80M279.29 296.80L286.09 290.00M287.50 294.60L294.30 301.40M287.50 301.40L294.30 294.60M295.71 252.60L302.51 259.40M295.71 259.40L302.51 252.60M303.92 271.20L310.72 278.00M303.92 278.00L310.72 271.20M312.13 301.60L318.93 308.40M312.13 308.40L318.93 301.60M320.34 300.00L327.14 306.80M320.34 306.80L327.14 300.00M328.55 305.60L335.35 312.40M328.55 312.40L335.35 305.60M336.76 305.20L343.56 312.00M336.76 312.00L343.56 305.20M344.97 305.60L351.77 312.40M344.97 312.40L351.77 305.60M353.18 305.20L359.98 312.00M353.18 312.00L359.98 305.20M361.39 301.60L368.19 308.40M361.39 308.40L368.19 301.60M369.60 304.00L376.40 310.80M369.60 310.80L376.40 304.00M377.81 302.20L384.61 309.00M377.81 309.00L384.61 302.20M386.02 302.60L392.82 309.40M386.02 309.40L392.82 302.60M394.23 307.20L401.03 314.00M394.23 314.00L401.03 307.20M402.44 294.00L409.24 300.80M402.44 300.80L409.24 294.00M410.65 306.00L417.45 312.80M410.65 312.80L417.45 306.00M418.86 302.00L425.66 308.80M418.86 308.80L425.66 302.00M427.07 284.00L433.87 290.80M427.07 290.80L433.87 284.00M435.28 299.20L442.08 306.00M435.28 306.00L442.08 299.20M443.49 308.00L450.29 314.80M443.49 314.80L450.29 308.00M451.70 301.60L458.50 308.40M451.70 308.40L458.50 301.60M459.91 304.60L466.71 311.40M459.91 311.40L466.71 304.60M468.12 302.00L474.92 308.80M468.12 308.80L474.92 302.00M476.33 302.00L483.13 308.80M476.33 308.80L483.13 302.00M484.54 303.20L491.34 310.00M484.54 310.00L491.34 303.20M492.75 301.60L499.55 308.40M492.75 308.40L499.55 301.60M500.96 300.60L507.76 307.40M500.96 307.40L507.76 300.60M509.17 305.20L515.97 312.00M509.17 312.00L515.97 305.20" stroke="#00f" stroke-width="1.05" fill="none"/></g>
<g><rect x="40.5" y="323.72" width="484.0" height="94.19" fill="none" stroke="#b4b4b4" stroke-width="1.2"/><text x="37.5" y="418.80" font-size="12" text-anchor="end">25</text><text x="37.5" y="397.52" font-size="12" text-anchor="end">30</text><text x="37.5" y="376.25" font-size="12" text-anchor="end">35</text><text x="37.5" y="354.97" font-size="12" text-anchor="end">40</text><text x="37.5" y="333.70" font-size="12" text-anchor="end">45</text><path d="M40.5 414.60h10M524.5 414.60h-10M40.5 410.35h5M524.5 410.35h-5M40.5 406.09h5M524.5 406.09h-5M40.5 401.84h5M524.5 401.84h-5M40.5 397.58h5M524.5 397.58h-5M40.5 393.32h10M524.5 393.32h-10M40.5 389.07h5M524.5 389.07h-5M40.5 384.81h5M524.5 384.81h-5M40.5 380.56h5M524.5 380.56h-5M40.5 376.31h5M524.5 376.31h-5M40.5 372.05h10M524.5 372.05h-10M40.5 367.80h5M524.5 367.80h-5M40.5 363.54h5M524.5 363.54h-5M40.5 359.29h5M524.5 359.29h-5M40.5 355.03h5M524.5 355.03h-5M40.5 350.77h10M524.5 350.77h-10M40.5 346.52h5M524.5 346.52h-5M40.5 342.26h5M524.5 342.26h-5M40.5 338.01h5M524.5 338.01h-5M40.5 333.75h5M524.5 333.75h-5M40.5 329.50h10M524.5 329.50h-10M40.5 325.25h5M524.5 325.25h-5" stroke="#b4b4b4" stroke-width="1.1" fill="none"/><path d="M40.40 417.91v-2M40.40 323.72v2M81.46 417.91v-2M81.46 323.72v2M122.52 417.91v-2M122.52 323.72v2M163.58 417.91v-2M163.58 323.72v2M204.64 417.91v-2M204.64 323.72v2M245.70 417.91v-2M245.70 323.72v2M286.76 417.91v-2M286.76 323.72v2M327.82 417.91v-2M327.82 323.72v2M368.88 417.91v-2M368.88 323.72v2M409.94 417.91v-2M409.94 323.72v2M451.00 417.91v-2M451.00 323.72v2M492.06 417.91v-2M492.06 323.72v2" stroke="#888" stroke-width="1" fill="none"/><text x="56.80" y="339.92" font-size="12" style="font-weight:normal;stroke-width:0.15px">δ</text><text x="63.03" y="339.42" font-size="11.50">F</text><text x="69.91" y="342.12" font-size="7.4">r</text><text x="126.8" y="339.82" font-size="12">Pre-flare 3<tspan style="font-weight:normal;stroke-width:0.15px">σ</tspan>:</text><path d="M205.90 333.72h6M205.90 338.12h6M208.90 333.72V338.12" stroke="#f00" stroke-width="1" fill="none" opacity="0.85"/><path d="M214.00 333.77h6M214.00 338.07h6M217.00 333.77V338.07" stroke="#00f" stroke-width="1" fill="none" opacity="0.85"/><g transform="translate(13.80 409.50) rotate(-90)"><text x="0.00" y="0" font-size="12.00" style="font-weight:normal;stroke-width:0.15px">δ</text><text x="6.48" y="0" font-size="12.00">F</text><text x="13.81" y="2.6" font-size="7.44">r</text><text x="23.84" y="0" font-size="12.00">(10</text><text x="41.38" y="-4.9" font-size="8.3">22</text><text x="50.61" y="0" font-size="12.00">&#160;dyn)</text></g><line x1="294.5" y1="325.22" x2="294.5" y2="417.41" stroke="#222" stroke-width="1" stroke-dasharray="1.3 2.7"/><line x1="306.0" y1="325.22" x2="306.0" y2="417.41" stroke="#222" stroke-width="1" stroke-dasharray="1.3 2.7"/><line x1="324.5" y1="325.22" x2="324.5" y2="417.41" stroke="#222" stroke-width="1" stroke-dasharray="1.3 2.7"/><g fill="#f00"><circle cx="44.60" cy="386.00" r="3.1"/><circle cx="52.81" cy="379.40" r="3.1"/><circle cx="61.02" cy="393.40" r="3.1"/><circle cx="69.23" cy="389.00" r="3.1"/><circle cx="77.44" cy="395.40" r="3.1"/><circle cx="85.65" cy="392.00" r="3.1"/><circle cx="93.86" cy="401.40" r="3.1"/><circle cx="102.07" cy="403.60" r="3.1"/><circle cx="110.28" cy="392.00" r="3.1"/><circle cx="118.49" cy="404.60" r="3.1"/><circle cx="126.70" cy="401.40" r="3.1"/><circle cx="134.91" cy="393.00" r="3.1"/><circle cx="143.12" cy="401.40" r="3.1"/><circle cx="151.33" cy="393.00" r="3.1"/><circle cx="159.54" cy="395.40" r="3.1"/><circle cx="167.75" cy="392.40" r="3.1"/><circle cx="175.96" cy="385.60" r="3.1"/><circle cx="184.17" cy="385.00" r="3.1"/><circle cx="192.38" cy="393.00" r="3.1"/><circle cx="200.59" cy="386.60" r="3.1"/><circle cx="208.80" cy="380.60" r="3.1"/><circle cx="217.01" cy="389.60" r="3.1"/><circle cx="225.22" cy="386.40" r="3.1"/><circle cx="233.43" cy="376.60" r="3.1"/><circle cx="241.64" cy="384.00" r="3.1"/><circle cx="249.85" cy="397.40" r="3.1"/><circle cx="258.06" cy="381.00" r="3.1"/><circle cx="266.27" cy="391.00" r="3.1"/><circle cx="274.48" cy="388.00" r="3.1"/><circle cx="282.69" cy="385.00" r="3.1"/><circle cx="290.90" cy="394.00" r="3.1"/><circle cx="299.11" cy="365.60" r="3.1"/><circle cx="307.32" cy="359.00" r="3.1"/><circle cx="315.53" cy="381.00" r="3.1"/><circle cx="323.74" cy="382.00" r="3.1"/><circle cx="331.95" cy="386.00" r="3.1"/><circle cx="340.16" cy="392.80" r="3.1"/><circle cx="348.37" cy="397.00" r="3.1"/><circle cx="356.58" cy="398.00" r="3.1"/><circle cx="364.79" cy="397.40" r="3.1"/><circle cx="373.00" cy="395.00" r="3.1"/><circle cx="381.21" cy="392.00" r="3.1"/><circle cx="389.42" cy="397.00" r="3.1"/><circle cx="397.63" cy="402.60" r="3.1"/><circle cx="405.84" cy="373.60" r="3.1"/><circle cx="414.05" cy="400.00" r="3.1"/><circle cx="422.26" cy="400.60" r="3.1"/><circle cx="430.47" cy="373.00" r="3.1"/><circle cx="438.68" cy="393.00" r="3.1"/><circle cx="446.89" cy="405.00" r="3.1"/><circle cx="455.10" cy="397.00" r="3.1"/><circle cx="463.31" cy="403.60" r="3.1"/><circle cx="471.52" cy="400.40" r="3.1"/><circle cx="479.73" cy="403.00" r="3.1"/><circle cx="487.94" cy="399.60" r="3.1"/><circle cx="496.15" cy="397.40" r="3.1"/><circle cx="504.36" cy="405.60" r="3.1"/><circle cx="512.57" cy="405.60" r="3.1"/></g><path d="M41.20 397.20L48.00 404.00M41.20 404.00L48.00 397.20M49.41 398.60L56.21 405.40M49.41 405.40L56.21 398.60M57.62 392.00L64.42 398.80M57.62 398.80L64.42 392.00M65.83 390.00L72.63 396.80M65.83 396.80L72.63 390.00M74.04 389.20L80.84 396.00M74.04 396.00L80.84 389.20M82.25 384.00L89.05 390.80M82.25 390.80L89.05 384.00M90.46 374.60L97.26 381.40M90.46 381.40L97.26 374.60M98.67 381.20L105.47 388.00M98.67 388.00L105.47 381.20M106.88 399.20L113.68 406.00M106.88 406.00L113.68 399.20M115.09 382.60L121.89 389.40M115.09 389.40L121.89 382.60M123.30 387.60L130.10 394.40M123.30 394.40L130.10 387.60M131.51 393.60L138.31 400.40M131.51 400.40L138.31 393.60M139.72 384.60L146.52 391.40M139.72 391.40L146.52 384.60M147.93 396.60L154.73 403.40M147.93 403.40L154.73 396.60M156.14 392.00L162.94 398.80M156.14 398.80L162.94 392.00M164.35 398.60L171.15 405.40M164.35 405.40L171.15 398.60M172.56 402.60L179.36 409.40M172.56 409.40L179.36 402.60M180.77 402.60L187.57 409.40M180.77 409.40L187.57 402.60M188.98 389.20L195.78 396.00M188.98 396.00L195.78 389.20M197.19 400.60L203.99 407.40M197.19 407.40L203.99 400.60M205.40 393.20L212.20 400.00M205.40 400.00L212.20 393.20M213.61 390.00L220.41 396.80M213.61 396.80L220.41 390.00M221.82 398.60L228.62 405.40M221.82 405.40L228.62 398.60M230.03 393.20L236.83 400.00M230.03 400.00L236.83 393.20M238.24 384.60L245.04 391.40M238.24 391.40L245.04 384.60M246.45 384.60L253.25 391.40M246.45 391.40L253.25 384.60M254.66 389.20L261.46 396.00M254.66 396.00L261.46 389.20M262.87 379.60L269.67 386.40M262.87 386.40L269.67 379.60M271.08 392.00L277.88 398.80M271.08 398.80L277.88 392.00M279.29 392.60L286.09 399.40M279.29 399.40L286.09 392.60M287.50 387.60L294.30 394.40M287.50 394.40L294.30 387.60M295.71 344.00L302.51 350.80M295.71 350.80L302.51 344.00M303.92 338.00L310.72 344.80M303.92 344.80L310.72 338.00M312.13 372.00L318.93 378.80M312.13 378.80L318.93 372.00M320.34 386.20L327.14 393.00M320.34 393.00L327.14 386.20M328.55 387.20L335.35 394.00M328.55 394.00L335.35 387.20M336.76 386.60L343.56 393.40M336.76 393.40L343.56 386.60M344.97 388.60L351.77 395.40M344.97 395.40L351.77 388.60M353.18 382.00L359.98 388.80M353.18 388.80L359.98 382.00M361.39 394.60L368.19 401.40M361.39 401.40L368.19 394.60M369.60 391.20L376.40 398.00M369.60 398.00L376.40 391.20M377.81 385.60L384.61 392.40M377.81 392.40L384.61 385.60M386.02 388.00L392.82 394.80M386.02 394.80L392.82 388.00M394.23 387.00L401.03 393.80M394.23 393.80L401.03 387.00M402.44 386.20L409.24 393.00M402.44 393.00L409.24 386.20M410.65 373.60L417.45 380.40M410.65 380.40L417.45 373.60M418.86 385.20L425.66 392.00M418.86 392.00L425.66 385.20M427.07 389.60L433.87 396.40M427.07 396.40L433.87 389.60M435.28 385.60L442.08 392.40M435.28 392.40L442.08 385.60M443.49 377.60L450.29 384.40M443.49 384.40L450.29 377.60M451.70 392.60L458.50 399.40M451.70 399.40L458.50 392.60M459.91 388.00L466.71 394.80M459.91 394.80L466.71 388.00M468.12 384.60L474.92 391.40M468.12 391.40L474.92 384.60M476.33 386.60L483.13 393.40M476.33 393.40L483.13 386.60M484.54 389.60L491.34 396.40M484.54 396.40L491.34 389.60M492.75 389.60L499.55 396.40M492.75 396.40L499.55 389.60M500.96 388.00L507.76 394.80M500.96 394.80L507.76 388.00M509.17 378.60L515.97 385.40M509.17 385.40L515.97 378.60" stroke="#00f" stroke-width="1.05" fill="none"/></g>
<g><rect x="40.5" y="423.66" width="484.0" height="94.12" fill="none" stroke="#b4b4b4" stroke-width="1.2"/><text x="37.5" y="515.68" font-size="12" text-anchor="end">20</text><text x="37.5" y="493.60" font-size="12" text-anchor="end">25</text><text x="37.5" y="471.52" font-size="12" text-anchor="end">30</text><text x="37.5" y="449.44" font-size="12" text-anchor="end">35</text><path d="M40.5 515.90h5M524.5 515.90h-5M40.5 511.48h10M524.5 511.48h-10M40.5 507.06h5M524.5 507.06h-5M40.5 502.65h5M524.5 502.65h-5M40.5 498.23h5M524.5 498.23h-5M40.5 493.82h5M524.5 493.82h-5M40.5 489.40h10M524.5 489.40h-10M40.5 484.98h5M524.5 484.98h-5M40.5 480.57h5M524.5 480.57h-5M40.5 476.15h5M524.5 476.15h-5M40.5 471.74h5M524.5 471.74h-5M40.5 467.32h10M524.5 467.32h-10M40.5 462.90h5M524.5 462.90h-5M40.5 458.49h5M524.5 458.49h-5M40.5 454.07h5M524.5 454.07h-5M40.5 449.66h5M524.5 449.66h-5M40.5 445.24h10M524.5 445.24h-10M40.5 440.82h5M524.5 440.82h-5M40.5 436.41h5M524.5 436.41h-5M40.5 431.99h5M524.5 431.99h-5M40.5 427.58h5M524.5 427.58h-5" stroke="#b4b4b4" stroke-width="1.1" fill="none"/><path d="M40.40 517.78v-2M40.40 423.66v2M81.46 517.78v-2M81.46 423.66v2M122.52 517.78v-2M122.52 423.66v2M163.58 517.78v-2M163.58 423.66v2M204.64 517.78v-2M204.64 423.66v2M245.70 517.78v-2M245.70 423.66v2M286.76 517.78v-2M286.76 423.66v2M327.82 517.78v-2M327.82 423.66v2M368.88 517.78v-2M368.88 423.66v2M409.94 517.78v-2M409.94 423.66v2M451.00 517.78v-2M451.00 423.66v2M492.06 517.78v-2M492.06 423.66v2" stroke="#888" stroke-width="1" fill="none"/><text x="56.80" y="439.86" font-size="12" style="font-weight:normal;stroke-width:0.15px">δ</text><text x="63.03" y="439.36" font-size="11.50">F</text><path d="M72.40 434.66V442.26M77.20 434.66V442.26" stroke="#777" stroke-width="1" fill="none"/><text x="126.8" y="439.76" font-size="12">Pre-flare 3<tspan style="font-weight:normal;stroke-width:0.15px">σ</tspan>:</text><path d="M205.90 434.86h6M205.90 436.86h6M208.90 434.86V436.86" stroke="#f00" stroke-width="1" fill="none" opacity="0.85"/><path d="M214.00 435.56h6M214.00 436.16h6M217.00 435.56V436.16" stroke="#00f" stroke-width="1" fill="none" opacity="0.85"/><g transform="translate(13.80 511.10) rotate(-90)"><text x="0.00" y="0" font-size="12.00" style="font-weight:normal;stroke-width:0.15px">δ</text><text x="6.48" y="0" font-size="12.00">F</text><path d="M16.81 -4.2v8.4M20.91 -4.2v8.4" stroke="#888" stroke-width="1" fill="none"/><text x="29.44" y="0" font-size="12.00">(10</text><text x="46.99" y="-4.9" font-size="8.3">22</text><text x="56.22" y="0" font-size="12.00">&#160;dyn)</text></g><line x1="294.5" y1="425.16" x2="294.5" y2="517.28" stroke="#222" stroke-width="1" stroke-dasharray="1.3 2.7"/><line x1="306.0" y1="425.16" x2="306.0" y2="517.28" stroke="#222" stroke-width="1" stroke-dasharray="1.3 2.7"/><line x1="324.5" y1="425.16" x2="324.5" y2="517.28" stroke="#222" stroke-width="1" stroke-dasharray="1.3 2.7"/><g fill="#f00"><circle cx="44.60" cy="496.60" r="3.1"/><circle cx="52.81" cy="494.00" r="3.1"/><circle cx="61.02" cy="491.00" r="3.1"/><circle cx="69.23" cy="497.40" r="3.1"/><circle cx="77.44" cy="498.40" r="3.1"/><circle cx="85.65" cy="497.40" r="3.1"/><circle cx="93.86" cy="496.60" r="3.1"/><circle cx="102.07" cy="501.00" r="3.1"/><circle cx="110.28" cy="505.40" r="3.1"/><circle cx="118.49" cy="502.40" r="3.1"/><circle cx="126.70" cy="503.40" r="3.1"/><circle cx="134.91" cy="498.60" r="3.1"/><circle cx="143.12" cy="500.00" r="3.1"/><circle cx="151.33" cy="499.00" r="3.1"/><circle cx="159.54" cy="500.00" r="3.1"/><circle cx="167.75" cy="501.60" r="3.1"/><circle cx="175.96" cy="498.00" r="3.1"/><circle cx="184.17" cy="498.60" r="3.1"/><circle cx="192.38" cy="500.40" r="3.1"/><circle cx="200.59" cy="499.40" r="3.1"/><circle cx="208.80" cy="495.00" r="3.1"/><circle cx="217.01" cy="496.40" r="3.1"/><circle cx="225.22" cy="504.00" r="3.1"/><circle cx="233.43" cy="496.60" r="3.1"/><circle cx="241.64" cy="498.00" r="3.1"/><circle cx="249.85" cy="495.40" r="3.1"/><circle cx="258.06" cy="497.40" r="3.1"/><circle cx="266.27" cy="503.40" r="3.1"/><circle cx="274.48" cy="502.60" r="3.1"/><circle cx="282.69" cy="501.60" r="3.1"/><circle cx="290.90" cy="505.00" r="3.1"/><circle cx="299.11" cy="483.00" r="3.1"/><circle cx="307.32" cy="470.40" r="3.1"/><circle cx="315.53" cy="482.00" r="3.1"/><circle cx="323.74" cy="491.40" r="3.1"/><circle cx="331.95" cy="493.40" r="3.1"/><circle cx="340.16" cy="500.80" r="3.1"/><circle cx="348.37" cy="500.60" r="3.1"/><circle cx="356.58" cy="501.60" r="3.1"/><circle cx="364.79" cy="505.60" r="3.1"/><circle cx="373.00" cy="500.60" r="3.1"/><circle cx="381.21" cy="497.00" r="3.1"/><circle cx="389.42" cy="506.60" r="3.1"/><circle cx="397.63" cy="497.60" r="3.1"/><circle cx="405.84" cy="498.00" r="3.1"/><circle cx="414.05" cy="500.60" r="3.1"/><circle cx="422.26" cy="496.00" r="3.1"/><circle cx="430.47" cy="498.80" r="3.1"/><circle cx="438.68" cy="497.40" r="3.1"/><circle cx="446.89" cy="501.00" r="3.1"/><circle cx="455.10" cy="498.60" r="3.1"/><circle cx="463.31" cy="501.60" r="3.1"/><circle cx="471.52" cy="501.00" r="3.1"/><circle cx="479.73" cy="498.40" r="3.1"/><circle cx="487.94" cy="498.00" r="3.1"/><circle cx="496.15" cy="501.00" r="3.1"/><circle cx="504.36" cy="505.40" r="3.1"/><circle cx="512.57" cy="508.60" r="3.1"/></g><path d="M41.20 493.20L48.00 500.00M41.20 500.00L48.00 493.20M49.41 494.00L56.21 500.80M49.41 500.80L56.21 494.00M57.62 496.00L64.42 502.80M57.62 502.80L64.42 496.00M65.83 490.60L72.63 497.40M65.83 497.40L72.63 490.60M74.04 490.60L80.84 497.40M74.04 497.40L80.84 490.60M82.25 492.00L89.05 498.80M82.25 498.80L89.05 492.00M90.46 493.20L97.26 500.00M90.46 500.00L97.26 493.20M98.67 491.20L105.47 498.00M98.67 498.00L105.47 491.20M106.88 489.60L113.68 496.40M106.88 496.40L113.68 489.60M115.09 492.60L121.89 499.40M115.09 499.40L121.89 492.60M123.30 493.60L130.10 500.40M123.30 500.40L130.10 493.60M131.51 492.00L138.31 498.80M131.51 498.80L138.31 492.00M139.72 491.80L146.52 498.60M139.72 498.60L146.52 491.80M147.93 491.60L154.73 498.40M147.93 498.40L154.73 491.60M156.14 489.60L162.94 496.40M156.14 496.40L162.94 489.60M164.35 491.00L171.15 497.80M164.35 497.80L171.15 491.00M172.56 494.00L179.36 500.80M172.56 500.80L179.36 494.00M180.77 489.60L187.57 496.40M180.77 496.40L187.57 489.60M188.98 488.00L195.78 494.80M188.98 494.80L195.78 488.00M197.19 489.00L203.99 495.80M197.19 495.80L203.99 489.00M205.40 490.00L212.20 496.80M205.40 496.80L212.20 490.00M213.61 493.00L220.41 499.80M213.61 499.80L220.41 493.00M221.82 485.60L228.62 492.40M221.82 492.40L228.62 485.60M230.03 487.20L236.83 494.00M230.03 494.00L236.83 487.20M238.24 489.20L245.04 496.00M238.24 496.00L245.04 489.20M246.45 493.60L253.25 500.40M246.45 500.40L253.25 493.60M254.66 487.20L261.46 494.00M254.66 494.00L261.46 487.20M262.87 490.00L269.67 496.80M262.87 496.80L269.67 490.00M271.08 491.60L277.88 498.40M271.08 498.40L277.88 491.60M279.29 490.00L286.09 496.80M279.29 496.80L286.09 490.00M287.50 492.60L294.30 499.40M287.50 499.40L294.30 492.60M295.71 436.00L302.51 442.80M295.71 442.80L302.51 436.00M303.92 439.00L310.72 445.80M303.92 445.80L310.72 439.00M312.13 489.20L318.93 496.00M312.13 496.00L318.93 489.20M320.34 490.60L327.14 497.40M320.34 497.40L327.14 490.60M328.55 493.60L335.35 500.40M328.55 500.40L335.35 493.60M336.76 494.00L343.56 500.80M336.76 500.80L343.56 494.00M344.97 496.60L351.77 503.40M344.97 503.40L351.77 496.60M353.18 490.60L359.98 497.40M353.18 497.40L359.98 490.60M361.39 493.00L368.19 499.80M361.39 499.80L368.19 493.00M369.60 496.60L376.40 503.40M369.60 503.40L376.40 496.60M377.81 495.20L384.61 502.00M377.81 502.00L384.61 495.20M386.02 490.60L392.82 497.40M386.02 497.40L392.82 490.60M394.23 500.00L401.03 506.80M394.23 506.80L401.03 500.00M402.44 494.60L409.24 501.40M402.44 501.40L409.24 494.60M410.65 492.00L417.45 498.80M410.65 498.80L417.45 492.00M418.86 500.00L425.66 506.80M418.86 506.80L425.66 500.00M427.07 495.60L433.87 502.40M427.07 502.40L433.87 495.60M435.28 494.00L442.08 500.80M435.28 500.80L442.08 494.00M443.49 490.60L450.29 497.40M443.49 497.40L450.29 490.60M451.70 495.60L458.50 502.40M451.70 502.40L458.50 495.60M459.91 498.60L466.71 505.40M459.91 505.40L466.71 498.60M468.12 498.00L474.92 504.80M468.12 504.80L474.92 498.00M476.33 499.60L483.13 506.40M476.33 506.40L483.13 499.60M484.54 501.20L491.34 508.00M484.54 508.00L491.34 501.20M492.75 490.60L499.55 497.40M492.75 497.40L499.55 490.60M500.96 493.20L507.76 500.00M500.96 500.00L507.76 493.20M509.17 493.20L515.97 500.00M509.17 500.00L515.97 493.20" stroke="#00f" stroke-width="1.05" fill="none"/></g>
<g><rect x="40.5" y="523.60" width="484.0" height="94.05" fill="none" stroke="#b4b4b4" stroke-width="1.2"/><text x="37.5" y="609.70" font-size="12" text-anchor="end">20</text><text x="37.5" y="592.68" font-size="12" text-anchor="end">25</text><text x="37.5" y="575.65" font-size="12" text-anchor="end">30</text><text x="37.5" y="558.62" font-size="12" text-anchor="end">35</text><text x="37.5" y="541.60" font-size="12" text-anchor="end">40</text><path d="M40.5 615.72h5M524.5 615.72h-5M40.5 612.31h5M524.5 612.31h-5M40.5 608.90h5M524.5 608.90h-5M40.5 605.50h10M524.5 605.50h-10M40.5 602.10h5M524.5 602.10h-5M40.5 598.69h5M524.5 598.69h-5M40.5 595.28h5M524.5 595.28h-5M40.5 591.88h5M524.5 591.88h-5M40.5 588.48h10M524.5 588.48h-10M40.5 585.07h5M524.5 585.07h-5M40.5 581.66h5M524.5 581.66h-5M40.5 578.26h5M524.5 578.26h-5M40.5 574.86h5M524.5 574.86h-5M40.5 571.45h10M524.5 571.45h-10M40.5 568.04h5M524.5 568.04h-5M40.5 564.64h5M524.5 564.64h-5M40.5 561.24h5M524.5 561.24h-5M40.5 557.83h5M524.5 557.83h-5M40.5 554.42h10M524.5 554.42h-10M40.5 551.02h5M524.5 551.02h-5M40.5 547.62h5M524.5 547.62h-5M40.5 544.21h5M524.5 544.21h-5M40.5 540.80h5M524.5 540.80h-5M40.5 537.40h10M524.5 537.40h-10M40.5 534.00h5M524.5 534.00h-5M40.5 530.59h5M524.5 530.59h-5M40.5 527.18h5M524.5 527.18h-5M40.5 523.78h5M524.5 523.78h-5" stroke="#b4b4b4" stroke-width="1.1" fill="none"/><path d="M40.40 617.65v-2M40.40 523.60v2M81.46 617.65v-2M81.46 523.60v2M122.52 617.65v-2M122.52 523.60v2M163.58 617.65v-2M163.58 523.60v2M204.64 617.65v-2M204.64 523.60v2M245.70 617.65v-2M245.70 523.60v2M286.76 617.65v-2M286.76 523.60v2M327.82 617.65v-2M327.82 523.60v2M368.88 617.65v-2M368.88 523.60v2M409.94 617.65v-2M409.94 523.60v2M451.00 617.65v-2M451.00 523.60v2M492.06 617.65v-2M492.06 523.60v2" stroke="#888" stroke-width="1" fill="none"/><text x="56.80" y="539.80" font-size="12" style="font-weight:normal;stroke-width:0.15px">δ</text><text x="63.03" y="539.30" font-size="11.50">F</text><path d="M72.90 536.90V541.50M70.20 541.50H75.50" stroke="#777" stroke-width="1" fill="none"/><text x="126.8" y="539.70" font-size="12">Pre-flare 3<tspan style="font-weight:normal;stroke-width:0.15px">σ</tspan>:</text><path d="M205.90 534.65h6M205.90 536.95h6M208.90 534.65V536.95" stroke="#f00" stroke-width="1" fill="none" opacity="0.85"/><path d="M214.00 534.90h6M214.00 536.70h6M217.00 534.90V536.70" stroke="#00f" stroke-width="1" fill="none" opacity="0.85"/><g transform="translate(13.80 609.30) rotate(-90)"><text x="0.00" y="0" font-size="12.00" style="font-weight:normal;stroke-width:0.15px">δ</text><text x="6.48" y="0" font-size="12.00">F</text><path d="M16.81 -2.20v5.0M14.01 2.80h5.6" stroke="#888" stroke-width="1" fill="none"/><text x="27.89" y="0" font-size="12.00">(10</text><text x="45.44" y="-4.9" font-size="8.3">22</text><text x="54.67" y="0" font-size="12.00">&#160;dyn)</text></g><line x1="294.5" y1="525.10" x2="294.5" y2="617.15" stroke="#222" stroke-width="1" stroke-dasharray="1.3 2.7"/><line x1="306.0" y1="525.10" x2="306.0" y2="617.15" stroke="#222" stroke-width="1" stroke-dasharray="1.3 2.7"/><line x1="324.5" y1="525.10" x2="324.5" y2="617.15" stroke="#222" stroke-width="1" stroke-dasharray="1.3 2.7"/><g fill="#f00"><circle cx="44.60" cy="604.60" r="3.1"/><circle cx="52.81" cy="603.00" r="3.1"/><circle cx="61.02" cy="602.60" r="3.1"/><circle cx="69.23" cy="606.00" r="3.1"/><circle cx="77.44" cy="606.60" r="3.1"/><circle cx="85.65" cy="604.60" r="3.1"/><circle cx="93.86" cy="603.60" r="3.1"/><circle cx="102.07" cy="606.60" r="3.1"/><circle cx="110.28" cy="607.60" r="3.1"/><circle cx="118.49" cy="608.60" r="3.1"/><circle cx="126.70" cy="605.60" r="3.1"/><circle cx="134.91" cy="604.00" r="3.1"/><circle cx="143.12" cy="607.00" r="3.1"/><circle cx="151.33" cy="603.40" r="3.1"/><circle cx="159.54" cy="605.40" r="3.1"/><circle cx="167.75" cy="606.60" r="3.1"/><circle cx="175.96" cy="600.00" r="3.1"/><circle cx="184.17" cy="599.40" r="3.1"/><circle cx="192.38" cy="600.00" r="3.1"/><circle cx="200.59" cy="608.00" r="3.1"/><circle cx="208.80" cy="604.60" r="3.1"/><circle cx="217.01" cy="604.60" r="3.1"/><circle cx="225.22" cy="600.60" r="3.1"/><circle cx="233.43" cy="597.00" r="3.1"/><circle cx="241.64" cy="604.30" r="3.1"/><circle cx="249.85" cy="603.00" r="3.1"/><circle cx="258.06" cy="596.00" r="3.1"/><circle cx="266.27" cy="604.00" r="3.1"/><circle cx="274.48" cy="602.60" r="3.1"/><circle cx="282.69" cy="605.60" r="3.1"/><circle cx="290.90" cy="605.60" r="3.1"/><circle cx="299.11" cy="597.00" r="3.1"/><circle cx="307.32" cy="568.60" r="3.1"/><circle cx="315.53" cy="587.00" r="3.1"/><circle cx="323.74" cy="599.00" r="3.1"/><circle cx="331.95" cy="597.40" r="3.1"/><circle cx="340.16" cy="598.60" r="3.1"/><circle cx="348.37" cy="599.40" r="3.1"/><circle cx="356.58" cy="602.00" r="3.1"/><circle cx="364.79" cy="600.60" r="3.1"/><circle cx="373.00" cy="598.00" r="3.1"/><circle cx="381.21" cy="600.60" r="3.1"/><circle cx="389.42" cy="604.00" r="3.1"/><circle cx="397.63" cy="602.60" r="3.1"/><circle cx="405.84" cy="599.40" r="3.1"/><circle cx="414.05" cy="599.00" r="3.1"/><circle cx="422.26" cy="602.00" r="3.1"/><circle cx="430.47" cy="595.00" r="3.1"/><circle cx="438.68" cy="602.60" r="3.1"/><circle cx="446.89" cy="597.40" r="3.1"/><circle cx="455.10" cy="601.40" r="3.1"/><circle cx="463.31" cy="598.60" r="3.1"/><circle cx="471.52" cy="600.00" r="3.1"/><circle cx="479.73" cy="600.40" r="3.1"/><circle cx="487.94" cy="603.00" r="3.1"/><circle cx="496.15" cy="597.00" r="3.1"/><circle cx="504.36" cy="605.40" r="3.1"/><circle cx="512.57" cy="601.00" r="3.1"/></g><path d="M41.20 603.20L48.00 610.00M41.20 610.00L48.00 603.20M49.41 600.00L56.21 606.80M49.41 606.80L56.21 600.00M57.62 601.60L64.42 608.40M57.62 608.40L64.42 601.60M65.83 594.60L72.63 601.40M65.83 601.40L72.63 594.60M74.04 598.00L80.84 604.80M74.04 604.80L80.84 598.00M82.25 600.00L89.05 606.80M82.25 606.80L89.05 600.00M90.46 602.60L97.26 609.40M90.46 609.40L97.26 602.60M98.67 599.60L105.47 606.40M98.67 606.40L105.47 599.60M106.88 603.20L113.68 610.00M106.88 610.00L113.68 603.20M115.09 600.00L121.89 606.80M115.09 606.80L121.89 600.00M123.30 601.60L130.10 608.40M123.30 608.40L130.10 601.60M131.51 602.00L138.31 608.80M131.51 608.80L138.31 602.00M139.72 600.60L146.52 607.40M139.72 607.40L146.52 600.60M147.93 600.00L154.73 606.80M147.93 606.80L154.73 600.00M156.14 601.20L162.94 608.00M156.14 608.00L162.94 601.20M164.35 598.60L171.15 605.40M164.35 605.40L171.15 598.60M172.56 603.20L179.36 610.00M172.56 610.00L179.36 603.20M180.77 607.60L187.57 614.40M180.77 614.40L187.57 607.60M188.98 603.20L195.78 610.00M188.98 610.00L195.78 603.20M197.19 600.60L203.99 607.40M197.19 607.40L203.99 600.60M205.40 597.20L212.20 604.00M205.40 604.00L212.20 597.20M213.61 596.00L220.41 602.80M213.61 602.80L220.41 596.00M221.82 602.00L228.62 608.80M221.82 608.80L228.62 602.00M230.03 605.20L236.83 612.00M230.03 612.00L236.83 605.20M238.24 598.90L245.04 605.70M238.24 605.70L245.04 598.90M246.45 603.20L253.25 610.00M246.45 610.00L253.25 603.20M254.66 600.60L261.46 607.40M254.66 607.40L261.46 600.60M262.87 601.20L269.67 608.00M262.87 608.00L269.67 601.20M271.08 600.60L277.88 607.40M271.08 607.40L277.88 600.60M279.29 601.60L286.09 608.40M279.29 608.40L286.09 601.60M287.50 601.60L294.30 608.40M287.50 608.40L294.30 601.60M295.71 533.60L302.51 540.40M295.71 540.40L302.51 533.60M303.92 550.60L310.72 557.40M303.92 557.40L310.72 550.60M312.13 589.60L318.93 596.40M312.13 596.40L318.93 589.60M320.34 592.60L327.14 599.40M320.34 599.40L327.14 592.60M328.55 603.20L335.35 610.00M328.55 610.00L335.35 603.20M336.76 602.60L343.56 609.40M336.76 609.40L343.56 602.60M344.97 601.60L351.77 608.40M344.97 608.40L351.77 601.60M353.18 600.60L359.98 607.40M353.18 607.40L359.98 600.60M361.39 601.20L368.19 608.00M361.39 608.00L368.19 601.20M369.60 601.20L376.40 608.00M369.60 608.00L376.40 601.20M377.81 596.60L384.61 603.40M377.81 603.40L384.61 596.60M386.02 599.20L392.82 606.00M386.02 606.00L392.82 599.20M394.23 601.20L401.03 608.00M394.23 608.00L401.03 601.20M402.44 596.60L409.24 603.40M402.44 603.40L409.24 596.60M410.65 600.60L417.45 607.40M410.65 607.40L417.45 600.60M418.86 595.80L425.66 602.60M418.86 602.60L425.66 595.80M427.07 591.60L433.87 598.40M427.07 598.40L433.87 591.60M435.28 595.20L442.08 602.00M435.28 602.00L442.08 595.20M443.49 602.00L450.29 608.80M443.49 608.80L450.29 602.00M451.70 599.60L458.50 606.40M451.70 606.40L458.50 599.60M459.91 604.60L466.71 611.40M459.91 611.40L466.71 604.60M468.12 604.60L474.92 611.40M468.12 611.40L474.92 604.60M476.33 602.60L483.13 609.40M476.33 609.40L483.13 602.60M484.54 600.60L491.34 607.40M484.54 607.40L491.34 600.60M492.75 601.60L499.55 608.40M492.75 608.40L499.55 601.60M500.96 601.20L507.76 608.00M500.96 608.00L507.76 601.20M509.17 603.20L515.97 610.00M509.17 610.00L515.97 603.20" stroke="#00f" stroke-width="1.05" fill="none"/></g>
<g><rect x="40.5" y="623.54" width="484.0" height="93.98" fill="none" stroke="#b4b4b4" stroke-width="1.2"/><text x="37.5" y="712.97" font-size="12" text-anchor="end">8</text><text x="37.5" y="690.98" font-size="12" text-anchor="end">10</text><text x="37.5" y="669.00" font-size="12" text-anchor="end">12</text><text x="37.5" y="647.01" font-size="12" text-anchor="end">14</text><path d="M40.5 714.27h5M524.5 714.27h-5M40.5 708.77h10M524.5 708.77h-10M40.5 703.27h5M524.5 703.27h-5M40.5 697.78h5M524.5 697.78h-5M40.5 692.28h5M524.5 692.28h-5M40.5 686.78h10M524.5 686.78h-10M40.5 681.29h5M524.5 681.29h-5M40.5 675.79h5M524.5 675.79h-5M40.5 670.29h5M524.5 670.29h-5M40.5 664.80h10M524.5 664.80h-10M40.5 659.30h5M524.5 659.30h-5M40.5 653.80h5M524.5 653.80h-5M40.5 648.31h5M524.5 648.31h-5M40.5 642.81h10M524.5 642.81h-10M40.5 637.31h5M524.5 637.31h-5M40.5 631.82h5M524.5 631.82h-5M40.5 626.32h5M524.5 626.32h-5" stroke="#b4b4b4" stroke-width="1.1" fill="none"/><path d="M40.40 717.52v-2M40.40 623.54v2M81.46 717.52v-2M81.46 623.54v2M122.52 717.52v-2M122.52 623.54v2M163.58 717.52v-2M163.58 623.54v2M204.64 717.52v-2M204.64 623.54v2M245.70 717.52v-2M245.70 623.54v2M286.76 717.52v-2M286.76 623.54v2M327.82 717.52v-2M327.82 623.54v2M368.88 717.52v-2M368.88 623.54v2M409.94 717.52v-2M409.94 623.54v2M451.00 717.52v-2M451.00 623.54v2M492.06 717.52v-2M492.06 623.54v2" stroke="#888" stroke-width="1" fill="none"/><path d="M61.20 628.94Q60.00 628.34 59.90 630.44L59.60 638.24Q59.40 640.44 57.20 639.84" stroke="#444" stroke-width="1.0" fill="none"/><text x="63.30" y="639.74" font-size="12" style="font-weight:normal;stroke-width:0.15px">δ</text><text x="69.67" y="639.24" font-size="11.50">S</text><text x="77.38" y="641.94" font-size="7.4">h</text><text x="84.83" y="639.24" font-size="11.50">dA</text><text x="126.8" y="639.64" font-size="12">Pre-flare 3<tspan style="font-weight:normal;stroke-width:0.15px">σ</tspan>:</text><path d="M205.90 634.34h6M205.90 637.14h6M208.90 634.34V637.14" stroke="#f00" stroke-width="1" fill="none" opacity="0.85"/><path d="M214.00 633.89h6M214.00 637.59h6M217.00 633.89V637.59" stroke="#00f" stroke-width="1" fill="none" opacity="0.85"/><g transform="translate(13.30 710.80) rotate(-90)"><path d="M4.50 -10.50Q3.30 -11.10 3.20 -9.00L2.90 -0.30Q2.70 1.90 0.50 1.30" stroke="#444" stroke-width="1.0" fill="none"/><text x="6.08" y="0" font-size="12.00" style="font-weight:normal;stroke-width:0.15px">δ</text><text x="12.56" y="0" font-size="12.00">S</text><text x="20.57" y="2.6" font-size="7.44">h</text><text x="32.24" y="0" font-size="12.00">(10</text><text x="49.79" y="-4.9" font-size="8.3">22</text><text x="59.02" y="0" font-size="12.00">&#160;Mx)</text></g><line x1="294.5" y1="625.04" x2="294.5" y2="717.02" stroke="#222" stroke-width="1" stroke-dasharray="1.3 2.7"/><line x1="306.0" y1="625.04" x2="306.0" y2="717.02" stroke="#222" stroke-width="1" stroke-dasharray="1.3 2.7"/><line x1="324.5" y1="625.04" x2="324.5" y2="717.02" stroke="#222" stroke-width="1" stroke-dasharray="1.3 2.7"/><g fill="#f00"><circle cx="44.60" cy="703.00" r="3.1"/><circle cx="52.81" cy="698.00" r="3.1"/><circle cx="61.02" cy="696.60" r="3.1"/><circle cx="69.23" cy="700.00" r="3.1"/><circle cx="77.44" cy="690.00" r="3.1"/><circle cx="85.65" cy="702.60" r="3.1"/><circle cx="93.86" cy="699.00" r="3.1"/><circle cx="102.07" cy="703.40" r="3.1"/><circle cx="110.28" cy="696.00" r="3.1"/><circle cx="118.49" cy="700.60" r="3.1"/><circle cx="126.70" cy="693.40" r="3.1"/><circle cx="134.91" cy="704.60" r="3.1"/><circle cx="143.12" cy="690.60" r="3.1"/><circle cx="151.33" cy="697.00" r="3.1"/><circle cx="159.54" cy="694.40" r="3.1"/><circle cx="167.75" cy="696.00" r="3.1"/><circle cx="175.96" cy="698.00" r="3.1"/><circle cx="184.17" cy="693.40" r="3.1"/><circle cx="192.38" cy="699.00" r="3.1"/><circle cx="200.59" cy="699.00" r="3.1"/><circle cx="208.80" cy="697.00" r="3.1"/><circle cx="217.01" cy="703.00" r="3.1"/><circle cx="225.22" cy="703.40" r="3.1"/><circle cx="233.43" cy="697.40" r="3.1"/><circle cx="241.64" cy="699.00" r="3.1"/><circle cx="249.85" cy="694.00" r="3.1"/><circle cx="258.06" cy="687.40" r="3.1"/><circle cx="266.27" cy="692.00" r="3.1"/><circle cx="274.48" cy="695.40" r="3.1"/><circle cx="282.69" cy="698.00" r="3.1"/><circle cx="290.90" cy="688.60" r="3.1"/><circle cx="299.11" cy="672.00" r="3.1"/><circle cx="307.32" cy="639.00" r="3.1"/><circle cx="315.53" cy="658.60" r="3.1"/><circle cx="323.74" cy="682.00" r="3.1"/><circle cx="331.95" cy="680.60" r="3.1"/><circle cx="340.16" cy="690.60" r="3.1"/><circle cx="348.37" cy="686.00" r="3.1"/><circle cx="356.58" cy="682.00" r="3.1"/><circle cx="364.79" cy="692.00" r="3.1"/><circle cx="373.00" cy="693.40" r="3.1"/><circle cx="381.21" cy="680.60" r="3.1"/><circle cx="389.42" cy="695.00" r="3.1"/><circle cx="397.63" cy="684.60" r="3.1"/><circle cx="405.84" cy="694.60" r="3.1"/><circle cx="414.05" cy="688.60" r="3.1"/><circle cx="422.26" cy="693.00" r="3.1"/><circle cx="430.47" cy="687.40" r="3.1"/><circle cx="438.68" cy="690.00" r="3.1"/><circle cx="446.89" cy="689.00" r="3.1"/><circle cx="455.10" cy="697.00" r="3.1"/><circle cx="463.31" cy="689.60" r="3.1"/><circle cx="471.52" cy="688.60" r="3.1"/><circle cx="479.73" cy="696.60" r="3.1"/><circle cx="487.94" cy="691.00" r="3.1"/><circle cx="496.15" cy="686.60" r="3.1"/><circle cx="504.36" cy="698.00" r="3.1"/><circle cx="512.57" cy="693.00" r="3.1"/></g><path d="M41.20 693.60L48.00 700.40M41.20 700.40L48.00 693.60M49.41 692.00L56.21 698.80M49.41 698.80L56.21 692.00M57.62 692.00L64.42 698.80M57.62 698.80L64.42 692.00M65.83 683.60L72.63 690.40M65.83 690.40L72.63 683.60M74.04 705.60L80.84 712.40M74.04 712.40L80.84 705.60M82.25 698.00L89.05 704.80M82.25 704.80L89.05 698.00M90.46 698.00L97.26 704.80M90.46 704.80L97.26 698.00M98.67 684.60L105.47 691.40M98.67 691.40L105.47 684.60M106.88 702.00L113.68 708.80M106.88 708.80L113.68 702.00M115.09 696.60L121.89 703.40M115.09 703.40L121.89 696.60M123.30 692.60L130.10 699.40M123.30 699.40L130.10 692.60M131.51 696.60L138.31 703.40M131.51 703.40L138.31 696.60M139.72 696.60L146.52 703.40M139.72 703.40L146.52 696.60M147.93 678.60L154.73 685.40M147.93 685.40L154.73 678.60M156.14 699.60L162.94 706.40M156.14 706.40L162.94 699.60M164.35 687.60L171.15 694.40M164.35 694.40L171.15 687.60M172.56 692.60L179.36 699.40M172.56 699.40L179.36 692.60M180.77 696.20L187.57 703.00M180.77 703.00L187.57 696.20M188.98 689.20L195.78 696.00M188.98 696.00L195.78 689.20M197.19 693.60L203.99 700.40M197.19 700.40L203.99 693.60M205.40 690.60L212.20 697.40M205.40 697.40L212.20 690.60M213.61 689.20L220.41 696.00M213.61 696.00L220.41 689.20M221.82 684.00L228.62 690.80M221.82 690.80L228.62 684.00M230.03 691.20L236.83 698.00M230.03 698.00L236.83 691.20M238.24 683.20L245.04 690.00M238.24 690.00L245.04 683.20M246.45 695.20L253.25 702.00M246.45 702.00L253.25 695.20M254.66 691.60L261.46 698.40M254.66 698.40L261.46 691.60M262.87 690.00L269.67 696.80M262.87 696.80L269.67 690.00M271.08 684.00L277.88 690.80M271.08 690.80L277.88 684.00M279.29 680.00L286.09 686.80M279.29 686.80L286.09 680.00M287.50 693.60L294.30 700.40M287.50 700.40L294.30 693.60M295.71 641.20L302.51 648.00M295.71 648.00L302.51 641.20M303.92 670.00L310.72 676.80M303.92 676.80L310.72 670.00M312.13 695.20L318.93 702.00M312.13 702.00L318.93 695.20M320.34 689.20L327.14 696.00M320.34 696.00L327.14 689.20M328.55 695.20L335.35 702.00M328.55 702.00L335.35 695.20M336.76 685.80L343.56 692.60M336.76 692.60L343.56 685.80M344.97 695.20L351.77 702.00M344.97 702.00L351.77 695.20M353.18 695.20L359.98 702.00M353.18 702.00L359.98 695.20M361.39 680.20L368.19 687.00M361.39 687.00L368.19 680.20M369.60 684.60L376.40 691.40M369.60 691.40L376.40 684.60M377.81 696.60L384.61 703.40M377.81 703.40L384.61 696.60M386.02 692.60L392.82 699.40M386.02 699.40L392.82 692.60M394.23 696.00L401.03 702.80M394.23 702.80L401.03 696.00M402.44 688.60L409.24 695.40M402.44 695.40L409.24 688.60M410.65 696.00L417.45 702.80M410.65 702.80L417.45 696.00M418.86 694.60L425.66 701.40M418.86 701.40L425.66 694.60M427.07 683.80L433.87 690.60M427.07 690.60L433.87 683.80M435.28 689.20L442.08 696.00M435.28 696.00L442.08 689.20M443.49 695.60L450.29 702.40M443.49 702.40L450.29 695.60M451.70 689.20L458.50 696.00M451.70 696.00L458.50 689.20M459.91 695.60L466.71 702.40M459.91 702.40L466.71 695.60M468.12 694.60L474.92 701.40M468.12 701.40L474.92 694.60M476.33 688.60L483.13 695.40M476.33 695.40L483.13 688.60M484.54 695.20L491.34 702.00M484.54 702.00L491.34 695.20M492.75 696.60L499.55 703.40M492.75 703.40L499.55 696.60M500.96 689.20L507.76 696.00M500.96 696.00L507.76 689.20M509.17 696.60L515.97 703.40M509.17 703.40L515.97 696.60" stroke="#00f" stroke-width="1.05" fill="none"/></g>
<g><rect x="40.5" y="723.48" width="484.0" height="93.91" fill="none" stroke="#b4b4b4" stroke-width="1.2"/><text x="37.5" y="809.85" font-size="12" text-anchor="end">2.5</text><text x="37.5" y="788.81" font-size="12" text-anchor="end">3.0</text><text x="37.5" y="767.76" font-size="12" text-anchor="end">3.5</text><text x="37.5" y="746.72" font-size="12" text-anchor="end">4.0</text><path d="M40.5 814.07h5M524.5 814.07h-5M40.5 809.86h5M524.5 809.86h-5M40.5 805.65h10M524.5 805.65h-10M40.5 801.44h5M524.5 801.44h-5M40.5 797.23h5M524.5 797.23h-5M40.5 793.02h5M524.5 793.02h-5M40.5 788.82h5M524.5 788.82h-5M40.5 784.61h10M524.5 784.61h-10M40.5 780.40h5M524.5 780.40h-5M40.5 776.19h5M524.5 776.19h-5M40.5 771.98h5M524.5 771.98h-5M40.5 767.77h5M524.5 767.77h-5M40.5 763.56h10M524.5 763.56h-10M40.5 759.35h5M524.5 759.35h-5M40.5 755.15h5M524.5 755.15h-5M40.5 750.94h5M524.5 750.94h-5M40.5 746.73h5M524.5 746.73h-5M40.5 742.52h10M524.5 742.52h-10M40.5 738.31h5M524.5 738.31h-5M40.5 734.10h5M524.5 734.10h-5M40.5 729.89h5M524.5 729.89h-5M40.5 725.69h5M524.5 725.69h-5" stroke="#b4b4b4" stroke-width="1.1" fill="none"/><path d="M40.40 817.39v-2M40.40 723.48v2M81.46 817.39v-2M81.46 723.48v2M122.52 817.39v-2M122.52 723.48v2M163.58 817.39v-2M163.58 723.48v2M204.64 817.39v-2M204.64 723.48v2M245.70 817.39v-2M245.70 723.48v2M286.76 817.39v-2M286.76 723.48v2M327.82 817.39v-2M327.82 723.48v2M368.88 817.39v-2M368.88 723.48v2M409.94 817.39v-2M409.94 723.48v2M451.00 817.39v-2M451.00 723.48v2M492.06 817.39v-2M492.06 723.48v2" stroke="#888" stroke-width="1" fill="none"/><path d="M61.20 728.88Q60.00 728.28 59.90 730.38L59.60 738.18Q59.40 740.38 57.20 739.78" stroke="#444" stroke-width="1.0" fill="none"/><text x="63.30" y="739.68" font-size="12" style="font-weight:normal;stroke-width:0.15px">δ</text><text x="69.67" y="739.18" font-size="11.50">S</text><text x="77.87" y="741.88" font-size="7.4">v</text><text x="84.83" y="739.18" font-size="11.50">dA</text><text x="126.8" y="739.58" font-size="12">Pre-flare 3<tspan style="font-weight:normal;stroke-width:0.15px">σ</tspan>:</text><path d="M205.90 734.18h6M205.90 737.18h6M208.90 734.18V737.18" stroke="#f00" stroke-width="1" fill="none" opacity="0.85"/><path d="M214.00 733.68h6M214.00 737.68h6M217.00 733.68V737.68" stroke="#00f" stroke-width="1" fill="none" opacity="0.85"/><g transform="translate(10.90 809.40) rotate(-90)"><path d="M4.50 -10.50Q3.30 -11.10 3.20 -9.00L2.90 -0.30Q2.70 1.90 0.50 1.30" stroke="#444" stroke-width="1.0" fill="none"/><text x="6.08" y="0" font-size="12.00" style="font-weight:normal;stroke-width:0.15px">δ</text><text x="12.56" y="0" font-size="12.00">S</text><text x="20.57" y="2.6" font-size="7.44">v</text><text x="31.54" y="0" font-size="12.00">(10</text><text x="49.08" y="-4.9" font-size="8.3">22</text><text x="58.31" y="0" font-size="12.00">&#160;Mx)</text></g><line x1="294.5" y1="724.98" x2="294.5" y2="816.89" stroke="#222" stroke-width="1" stroke-dasharray="1.3 2.7"/><line x1="306.0" y1="724.98" x2="306.0" y2="816.89" stroke="#222" stroke-width="1" stroke-dasharray="1.3 2.7"/><line x1="324.5" y1="724.98" x2="324.5" y2="816.89" stroke="#222" stroke-width="1" stroke-dasharray="1.3 2.7"/><g fill="#f00"><circle cx="44.60" cy="802.60" r="3.1"/><circle cx="52.81" cy="804.00" r="3.1"/><circle cx="61.02" cy="797.00" r="3.1"/><circle cx="69.23" cy="796.00" r="3.1"/><circle cx="77.44" cy="789.00" r="3.1"/><circle cx="85.65" cy="797.00" r="3.1"/><circle cx="93.86" cy="787.60" r="3.1"/><circle cx="102.07" cy="796.00" r="3.1"/><circle cx="110.28" cy="799.40" r="3.1"/><circle cx="118.49" cy="791.00" r="3.1"/><circle cx="126.70" cy="791.40" r="3.1"/><circle cx="134.91" cy="799.00" r="3.1"/><circle cx="143.12" cy="782.40" r="3.1"/><circle cx="151.33" cy="788.60" r="3.1"/><circle cx="159.54" cy="790.60" r="3.1"/><circle cx="167.75" cy="792.60" r="3.1"/><circle cx="175.96" cy="800.00" r="3.1"/><circle cx="184.17" cy="793.40" r="3.1"/><circle cx="192.38" cy="790.00" r="3.1"/><circle cx="200.59" cy="796.40" r="3.1"/><circle cx="208.80" cy="795.40" r="3.1"/><circle cx="217.01" cy="794.60" r="3.1"/><circle cx="225.22" cy="802.60" r="3.1"/><circle cx="233.43" cy="800.00" r="3.1"/><circle cx="241.64" cy="793.40" r="3.1"/><circle cx="249.85" cy="792.00" r="3.1"/><circle cx="258.06" cy="793.40" r="3.1"/><circle cx="266.27" cy="791.00" r="3.1"/><circle cx="274.48" cy="798.00" r="3.1"/><circle cx="282.69" cy="789.40" r="3.1"/><circle cx="290.90" cy="784.00" r="3.1"/><circle cx="299.11" cy="761.00" r="3.1"/><circle cx="307.32" cy="757.00" r="3.1"/><circle cx="315.53" cy="765.60" r="3.1"/><circle cx="323.74" cy="793.40" r="3.1"/><circle cx="331.95" cy="791.00" r="3.1"/><circle cx="340.16" cy="795.00" r="3.1"/><circle cx="348.37" cy="788.60" r="3.1"/><circle cx="356.58" cy="785.00" r="3.1"/><circle cx="364.79" cy="806.60" r="3.1"/><circle cx="373.00" cy="799.40" r="3.1"/><circle cx="381.21" cy="787.00" r="3.1"/><circle cx="389.42" cy="799.00" r="3.1"/><circle cx="397.63" cy="779.40" r="3.1"/><circle cx="405.84" cy="797.60" r="3.1"/><circle cx="414.05" cy="792.00" r="3.1"/><circle cx="422.26" cy="794.40" r="3.1"/><circle cx="430.47" cy="786.80" r="3.1"/><circle cx="438.68" cy="791.00" r="3.1"/><circle cx="446.89" cy="788.00" r="3.1"/><circle cx="455.10" cy="798.00" r="3.1"/><circle cx="463.31" cy="794.00" r="3.1"/><circle cx="471.52" cy="783.40" r="3.1"/><circle cx="479.73" cy="797.60" r="3.1"/><circle cx="487.94" cy="789.60" r="3.1"/><circle cx="496.15" cy="791.00" r="3.1"/><circle cx="504.36" cy="797.40" r="3.1"/><circle cx="512.57" cy="793.00" r="3.1"/></g><path d="M41.20 791.60L48.00 798.40M41.20 798.40L48.00 791.60M49.41 782.60L56.21 789.40M49.41 789.40L56.21 782.60M57.62 785.60L64.42 792.40M57.62 792.40L64.42 785.60M65.83 788.60L72.63 795.40M65.83 795.40L72.63 788.60M74.04 803.20L80.84 810.00M74.04 810.00L80.84 803.20M82.25 796.00L89.05 802.80M82.25 802.80L89.05 796.00M90.46 801.60L97.26 808.40M90.46 808.40L97.26 801.60M98.67 787.60L105.47 794.40M98.67 794.40L105.47 787.60M106.88 790.00L113.68 796.80M106.88 796.80L113.68 790.00M115.09 804.00L121.89 810.80M115.09 810.80L121.89 804.00M123.30 787.60L130.10 794.40M123.30 794.40L130.10 787.60M131.51 798.00L138.31 804.80M131.51 804.80L138.31 798.00M139.72 801.20L146.52 808.00M139.72 808.00L146.52 801.20M147.93 778.60L154.73 785.40M147.93 785.40L154.73 778.60M156.14 791.20L162.94 798.00M156.14 798.00L162.94 791.20M164.35 781.60L171.15 788.40M164.35 788.40L171.15 781.60M172.56 789.60L179.36 796.40M172.56 796.40L179.36 789.60M180.77 788.00L187.57 794.80M180.77 794.80L187.57 788.00M188.98 791.20L195.78 798.00M188.98 798.00L195.78 791.20M197.19 793.00L203.99 799.80M197.19 799.80L203.99 793.00M205.40 783.20L212.20 790.00M205.40 790.00L212.20 783.20M213.61 791.20L220.41 798.00M213.61 798.00L220.41 791.20M221.82 784.00L228.62 790.80M221.82 790.80L228.62 784.00M230.03 778.60L236.83 785.40M230.03 785.40L236.83 778.60M238.24 781.20L245.04 788.00M238.24 788.00L245.04 781.20M246.45 794.00L253.25 800.80M246.45 800.80L253.25 794.00M254.66 778.60L261.46 785.40M254.66 785.40L261.46 778.60M262.87 791.00L269.67 797.80M262.87 797.80L269.67 791.00M271.08 775.20L277.88 782.00M271.08 782.00L277.88 775.20M279.29 781.20L286.09 788.00M279.29 788.00L286.09 781.20M287.50 792.00L294.30 798.80M287.50 798.80L294.30 792.00M295.71 737.20L302.51 744.00M295.71 744.00L302.51 737.20M303.92 748.60L310.72 755.40M303.92 755.40L310.72 748.60M312.13 778.60L318.93 785.40M312.13 785.40L318.93 778.60M320.34 780.00L327.14 786.80M320.34 786.80L327.14 780.00M328.55 783.20L335.35 790.00M328.55 790.00L335.35 783.20M336.76 778.60L343.56 785.40M336.76 785.40L343.56 778.60M344.97 794.00L351.77 800.80M344.97 800.80L351.77 794.00M353.18 797.60L359.98 804.40M353.18 804.40L359.98 797.60M361.39 773.60L368.19 780.40M361.39 780.40L368.19 773.60M369.60 788.60L376.40 795.40M369.60 795.40L376.40 788.60M377.81 795.60L384.61 802.40M377.81 802.40L384.61 795.60M386.02 793.20L392.82 800.00M386.02 800.00L392.82 793.20M394.23 799.60L401.03 806.40M394.23 806.40L401.03 799.60M402.44 782.60L409.24 789.40M402.44 789.40L409.24 782.60M410.65 783.20L417.45 790.00M410.65 790.00L417.45 783.20M418.86 795.60L425.66 802.40M418.86 802.40L425.66 795.60M427.07 782.90L433.87 789.70M427.07 789.70L433.87 782.90M435.28 791.60L442.08 798.40M435.28 798.40L442.08 791.60M443.49 799.20L450.29 806.00M443.49 806.00L450.29 799.20M451.70 787.20L458.50 794.00M451.70 794.00L458.50 787.20M459.91 794.60L466.71 801.40M459.91 801.40L466.71 794.60M468.12 799.60L474.92 806.40M468.12 806.40L474.92 799.60M476.33 785.60L483.13 792.40M476.33 792.40L483.13 785.60M484.54 796.00L491.34 802.80M484.54 802.80L491.34 796.00M492.75 795.60L499.55 802.40M492.75 802.40L499.55 795.60M500.96 793.60L507.76 800.40M500.96 800.40L507.76 793.60M509.17 797.20L515.97 804.00M509.17 804.00L515.97 797.20" stroke="#00f" stroke-width="1.05" fill="none"/></g>
</svg></body></html>
